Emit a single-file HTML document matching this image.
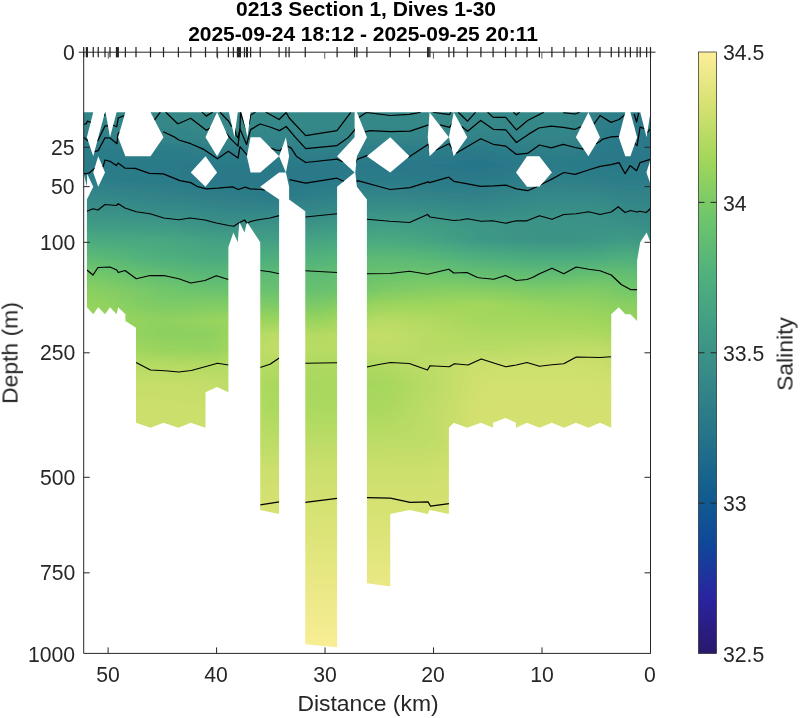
<!DOCTYPE html><html><head><meta charset="utf-8"><title>0213 Section 1</title><style>
html,body{margin:0;padding:0;background:#fff;}
body{width:800px;height:718px;position:relative;overflow:hidden;font-family:"Liberation Sans",sans-serif;color:#262626;}
.t{position:absolute;white-space:nowrap;line-height:1;will-change:transform;}
.tk{font-size:21.2px;}
.yl{text-align:right;right:725.1px;}
.xl{transform:translateX(-50%);}
.ttl{font-weight:bold;font-size:21px;color:#000;transform:translateX(-50%);left:367px;}
.lab{font-size:22.9px;}
</style></head><body>
<svg width="800" height="718" viewBox="0 0 800 718" style="position:absolute;left:0;top:0">
<defs><linearGradient id="g" gradientUnits="userSpaceOnUse" x1="0" y1="112" x2="0" y2="648"><stop offset="0.0000" stop-color="#388d87"/><stop offset="0.0466" stop-color="#348788"/><stop offset="0.0858" stop-color="#2a7a89"/><stop offset="0.1231" stop-color="#2a7989"/><stop offset="0.1642" stop-color="#338588"/><stop offset="0.2108" stop-color="#3b9286"/><stop offset="0.2481" stop-color="#49a781"/><stop offset="0.2985" stop-color="#61bd73"/><stop offset="0.3507" stop-color="#81cc65"/><stop offset="0.3881" stop-color="#9cd55c"/><stop offset="0.4254" stop-color="#aad85f"/><stop offset="0.4664" stop-color="#bbdc66"/><stop offset="0.5000" stop-color="#c6de6a"/><stop offset="0.5840" stop-color="#cfe06e"/><stop offset="0.6493" stop-color="#cfe06e"/><stop offset="0.7239" stop-color="#d7e273"/><stop offset="0.8172" stop-color="#e0e57c"/><stop offset="0.9104" stop-color="#ebe887"/><stop offset="1.0000" stop-color="#f4eb90"/></linearGradient>
<linearGradient id="cb" x1="0" y1="0" x2="0" y2="1"><stop offset="0.0000" stop-color="rgb(253,238,153)"/><stop offset="0.0909" stop-color="rgb(212,225,112)"/><stop offset="0.1818" stop-color="rgb(160,214,91)"/><stop offset="0.2727" stop-color="rgb(111,198,107)"/><stop offset="0.3636" stop-color="rgb(81,178,124)"/><stop offset="0.4545" stop-color="rgb(65,157,133)"/><stop offset="0.5455" stop-color="rgb(53,136,136)"/><stop offset="0.6364" stop-color="rgb(38,116,137)"/><stop offset="0.7273" stop-color="rgb(18,95,142)"/><stop offset="0.8182" stop-color="rgb(15,71,153)"/><stop offset="0.9091" stop-color="rgb(42,35,160)"/><stop offset="1.0000" stop-color="rgb(41,24,107)"/></linearGradient>
<clipPath id="clip"><path clip-rule="evenodd" d="M83.50 112.32 L650.50 112.32 L650.50 242.32 L646.60 232.56 L640.25 242.32 L637.10 260.46 L637.10 321.06 L630.40 314.26 L625.30 314.26 L618.75 307.27 L611.25 314.26 L611.25 427.65 L600.00 422.80 L588.40 427.65 L575.90 422.80 L564.00 427.65 L551.90 422.80 L539.40 427.65 L527.00 422.80 L516.00 427.65 L516.00 422.80 L505.50 417.90 L493.10 422.80 L493.10 427.65 L480.90 422.80 L467.25 427.65 L453.75 422.80 L448.90 427.65 L448.90 513.99 L429.60 510.06 L427.75 513.99 L409.50 510.06 L390.25 513.99 L390.25 586.56 L366.90 583.17 L366.90 199.46 L356.90 186.63 L355.30 172.44 L356.90 156.33 L366.90 137.22 L356.90 112.32 L354.60 112.32 L354.60 137.22 L337.10 156.33 L354.60 172.44 L337.10 186.63 L337.10 647.36 L305.25 644.31 L305.25 211.26 L289.10 199.46 L289.10 186.63 L285.90 172.44 L279.10 172.44 L260.25 186.63 L279.10 199.46 L279.10 513.99 L260.25 510.06 L260.25 242.32 L250.60 227.48 L246.90 222.25 L244.50 232.56 L239.40 222.25 L237.75 242.32 L233.40 232.56 L228.40 247.01 L228.40 392.29 L217.10 386.93 L205.50 392.29 L205.50 427.65 L190.75 422.80 L178.40 427.65 L163.50 422.80 L150.50 427.65 L136.00 422.80 L136.00 327.70 L125.40 321.06 L125.40 314.26 L118.10 307.27 L116.60 314.26 L110.00 307.27 L105.00 314.26 L98.25 307.27 L93.25 314.26 L86.90 307.27 L86.90 199.46 L93.25 186.63 L87.20 173.93 L86.90 186.63 L83.50 172.44Z M93.25 112.32 L86.90 137.22 L93.25 156.33 L98.25 137.22 L105.00 112.32Z M105.60 112.32 L116.60 112.32 L110.00 137.22Z M98.25 156.33 L105.00 172.44 L98.25 186.63 L93.25 172.44Z M125.40 112.32 L118.10 137.22 L125.40 156.33 L150.50 156.33 L163.50 137.22 L150.50 112.32Z M217.10 112.32 L228.40 137.22 L217.10 156.33 L205.50 137.22Z M205.50 156.33 L217.10 172.44 L205.50 186.63 L190.75 172.44Z M228.90 112.32 L237.75 112.32 L234.50 137.22Z M241.50 112.32 L250.60 112.32 L247.50 137.22Z M246.90 156.33 L250.60 137.22 L260.25 137.22 L279.10 156.33 L260.25 172.44 L250.60 172.44Z M279.10 156.33 L285.90 137.22 L289.10 156.33 L285.90 172.44Z M390.25 137.22 L409.50 156.33 L390.25 172.44 L366.90 156.33Z M429.60 112.32 L448.90 137.22 L429.60 156.33 L427.75 137.22Z M448.90 137.22 L453.75 112.32 L467.25 137.22 L453.75 156.33Z M516.00 172.44 L527.00 156.33 L539.40 156.33 L551.90 172.44 L539.40 186.63 L527.00 186.63Z M575.90 137.22 L588.40 112.32 L600.00 137.22 L588.40 156.33Z M625.30 112.32 L618.75 137.22 L625.30 156.33 L630.40 156.33 L637.10 137.22 L630.40 112.32Z M640.25 112.32 L650.50 112.32 L646.60 137.22Z M650.50 159.75 L646.40 172.44 L650.50 183.92Z"/></clipPath></defs>
<defs><linearGradient id="c0" gradientUnits="userSpaceOnUse" x1="0" y1="112" x2="0" y2="648"><stop offset="0.0000" stop-color="#338588"/><stop offset="0.0243" stop-color="#318388"/><stop offset="0.0466" stop-color="#2e7e88"/><stop offset="0.0709" stop-color="#2c7c89"/><stop offset="0.0989" stop-color="#2a7a89"/><stop offset="0.1269" stop-color="#2c7c89"/><stop offset="0.1549" stop-color="#348788"/><stop offset="0.1828" stop-color="#3a9087"/><stop offset="0.2108" stop-color="#409b85"/><stop offset="0.2388" stop-color="#4baa80"/><stop offset="0.2724" stop-color="#5ebb75"/><stop offset="0.3041" stop-color="#76c869"/><stop offset="0.3321" stop-color="#8bcf62"/><stop offset="0.3601" stop-color="#96d35e"/><stop offset="0.3881" stop-color="#9ed55c"/><stop offset="0.4160" stop-color="#a4d75d"/><stop offset="0.4440" stop-color="#acd960"/><stop offset="0.4720" stop-color="#b8db65"/><stop offset="0.5093" stop-color="#c6de6a"/><stop offset="0.5560" stop-color="#ccdf6d"/><stop offset="0.6119" stop-color="#ccdf6d"/><stop offset="0.6679" stop-color="#ccdf6d"/><stop offset="0.7239" stop-color="#d4e170"/><stop offset="0.8172" stop-color="#e0e57c"/><stop offset="0.9104" stop-color="#ede989"/><stop offset="1.0000" stop-color="#f8ed94"/></linearGradient><linearGradient id="c1" gradientUnits="userSpaceOnUse" x1="0" y1="112" x2="0" y2="648"><stop offset="0.0000" stop-color="#338588"/><stop offset="0.0243" stop-color="#318388"/><stop offset="0.0466" stop-color="#2e7e88"/><stop offset="0.0709" stop-color="#2c7c89"/><stop offset="0.0989" stop-color="#2a7a89"/><stop offset="0.1269" stop-color="#2c7c89"/><stop offset="0.1549" stop-color="#348788"/><stop offset="0.1828" stop-color="#3a9087"/><stop offset="0.2108" stop-color="#409b85"/><stop offset="0.2388" stop-color="#4baa80"/><stop offset="0.2724" stop-color="#5ebb75"/><stop offset="0.3041" stop-color="#76c869"/><stop offset="0.3321" stop-color="#8bcf62"/><stop offset="0.3601" stop-color="#96d35e"/><stop offset="0.3881" stop-color="#9ed55c"/><stop offset="0.4160" stop-color="#a4d75d"/><stop offset="0.4440" stop-color="#acd960"/><stop offset="0.4720" stop-color="#b8db65"/><stop offset="0.5093" stop-color="#c6de6a"/><stop offset="0.5560" stop-color="#ccdf6d"/><stop offset="0.6119" stop-color="#ccdf6d"/><stop offset="0.6679" stop-color="#ccdf6d"/><stop offset="0.7239" stop-color="#d4e170"/><stop offset="0.8172" stop-color="#e0e57c"/><stop offset="0.9104" stop-color="#ede989"/><stop offset="1.0000" stop-color="#f8ed94"/></linearGradient><linearGradient id="c2" gradientUnits="userSpaceOnUse" x1="0" y1="112" x2="0" y2="648"><stop offset="0.0000" stop-color="#338588"/><stop offset="0.0243" stop-color="#318388"/><stop offset="0.0466" stop-color="#2e7e88"/><stop offset="0.0709" stop-color="#2c7c89"/><stop offset="0.0989" stop-color="#2a7a89"/><stop offset="0.1269" stop-color="#2c7c89"/><stop offset="0.1549" stop-color="#348788"/><stop offset="0.1828" stop-color="#3a9087"/><stop offset="0.2108" stop-color="#409b85"/><stop offset="0.2388" stop-color="#4baa80"/><stop offset="0.2724" stop-color="#5ebb75"/><stop offset="0.3041" stop-color="#76c869"/><stop offset="0.3321" stop-color="#8bcf62"/><stop offset="0.3601" stop-color="#96d35e"/><stop offset="0.3881" stop-color="#9ed55c"/><stop offset="0.4160" stop-color="#a4d75d"/><stop offset="0.4440" stop-color="#acd960"/><stop offset="0.4720" stop-color="#b8db65"/><stop offset="0.5093" stop-color="#c6de6a"/><stop offset="0.5560" stop-color="#ccdf6d"/><stop offset="0.6119" stop-color="#ccdf6d"/><stop offset="0.6679" stop-color="#ccdf6d"/><stop offset="0.7239" stop-color="#d4e170"/><stop offset="0.8172" stop-color="#e0e57c"/><stop offset="0.9104" stop-color="#ede989"/><stop offset="1.0000" stop-color="#f8ed94"/></linearGradient><linearGradient id="c3" gradientUnits="userSpaceOnUse" x1="0" y1="112" x2="0" y2="648"><stop offset="0.0000" stop-color="#338588"/><stop offset="0.0243" stop-color="#318388"/><stop offset="0.0466" stop-color="#2e7e88"/><stop offset="0.0709" stop-color="#2c7c89"/><stop offset="0.0989" stop-color="#2a7a89"/><stop offset="0.1269" stop-color="#2c7c89"/><stop offset="0.1549" stop-color="#348788"/><stop offset="0.1828" stop-color="#3a9087"/><stop offset="0.2108" stop-color="#409b85"/><stop offset="0.2388" stop-color="#4baa80"/><stop offset="0.2724" stop-color="#5ebb75"/><stop offset="0.3041" stop-color="#76c869"/><stop offset="0.3321" stop-color="#8bcf62"/><stop offset="0.3601" stop-color="#96d35e"/><stop offset="0.3881" stop-color="#9ed55c"/><stop offset="0.4160" stop-color="#a4d75d"/><stop offset="0.4440" stop-color="#acd960"/><stop offset="0.4720" stop-color="#b8db65"/><stop offset="0.5093" stop-color="#c6de6a"/><stop offset="0.5560" stop-color="#ccdf6d"/><stop offset="0.6119" stop-color="#ccdf6d"/><stop offset="0.6679" stop-color="#ccdf6d"/><stop offset="0.7239" stop-color="#d4e170"/><stop offset="0.8172" stop-color="#e0e57c"/><stop offset="0.9104" stop-color="#ede989"/><stop offset="1.0000" stop-color="#f8ed94"/></linearGradient><linearGradient id="c4" gradientUnits="userSpaceOnUse" x1="0" y1="112" x2="0" y2="648"><stop offset="0.0000" stop-color="#338588"/><stop offset="0.0243" stop-color="#328388"/><stop offset="0.0466" stop-color="#2f7f88"/><stop offset="0.0709" stop-color="#2c7c89"/><stop offset="0.0989" stop-color="#2a7a89"/><stop offset="0.1269" stop-color="#2c7c89"/><stop offset="0.1549" stop-color="#348688"/><stop offset="0.1828" stop-color="#398f87"/><stop offset="0.2108" stop-color="#3f9a85"/><stop offset="0.2388" stop-color="#4aa980"/><stop offset="0.2724" stop-color="#5bb976"/><stop offset="0.3041" stop-color="#71c76a"/><stop offset="0.3321" stop-color="#87ce63"/><stop offset="0.3601" stop-color="#92d160"/><stop offset="0.3881" stop-color="#9bd55c"/><stop offset="0.4160" stop-color="#9fd65b"/><stop offset="0.4440" stop-color="#a9d85f"/><stop offset="0.4720" stop-color="#b7db64"/><stop offset="0.5093" stop-color="#c6de6a"/><stop offset="0.5560" stop-color="#ccdf6d"/><stop offset="0.6119" stop-color="#ccdf6d"/><stop offset="0.6679" stop-color="#ccdf6d"/><stop offset="0.7239" stop-color="#d4e170"/><stop offset="0.8172" stop-color="#e0e57c"/><stop offset="0.9104" stop-color="#ede989"/><stop offset="1.0000" stop-color="#f8ed94"/></linearGradient><linearGradient id="c5" gradientUnits="userSpaceOnUse" x1="0" y1="112" x2="0" y2="648"><stop offset="0.0000" stop-color="#338688"/><stop offset="0.0243" stop-color="#328488"/><stop offset="0.0466" stop-color="#2f8188"/><stop offset="0.0709" stop-color="#2c7c89"/><stop offset="0.0989" stop-color="#2a7a89"/><stop offset="0.1269" stop-color="#2c7c89"/><stop offset="0.1549" stop-color="#338588"/><stop offset="0.1828" stop-color="#388e87"/><stop offset="0.2108" stop-color="#3f9a85"/><stop offset="0.2388" stop-color="#4aa980"/><stop offset="0.2724" stop-color="#58b778"/><stop offset="0.3041" stop-color="#6dc46c"/><stop offset="0.3321" stop-color="#82cc65"/><stop offset="0.3601" stop-color="#8cd061"/><stop offset="0.3881" stop-color="#98d45d"/><stop offset="0.4160" stop-color="#9bd45d"/><stop offset="0.4440" stop-color="#a5d75d"/><stop offset="0.4720" stop-color="#b7db64"/><stop offset="0.5093" stop-color="#c6de6a"/><stop offset="0.5560" stop-color="#ccdf6d"/><stop offset="0.6119" stop-color="#ccdf6d"/><stop offset="0.6679" stop-color="#ccdf6d"/><stop offset="0.7239" stop-color="#d4e170"/><stop offset="0.8172" stop-color="#e0e57c"/><stop offset="0.9104" stop-color="#ede989"/><stop offset="1.0000" stop-color="#f8ed94"/></linearGradient><linearGradient id="c6" gradientUnits="userSpaceOnUse" x1="0" y1="112" x2="0" y2="648"><stop offset="0.0000" stop-color="#348788"/><stop offset="0.0243" stop-color="#338588"/><stop offset="0.0466" stop-color="#308288"/><stop offset="0.0709" stop-color="#2c7c89"/><stop offset="0.0989" stop-color="#2a7a89"/><stop offset="0.1269" stop-color="#2c7b89"/><stop offset="0.1549" stop-color="#328488"/><stop offset="0.1828" stop-color="#388d87"/><stop offset="0.2108" stop-color="#3f9986"/><stop offset="0.2388" stop-color="#4aa880"/><stop offset="0.2724" stop-color="#55b47a"/><stop offset="0.3041" stop-color="#69c26e"/><stop offset="0.3321" stop-color="#7dca67"/><stop offset="0.3601" stop-color="#87ce63"/><stop offset="0.3881" stop-color="#95d35e"/><stop offset="0.4160" stop-color="#96d35e"/><stop offset="0.4440" stop-color="#a2d65c"/><stop offset="0.4720" stop-color="#b6db64"/><stop offset="0.5093" stop-color="#c6de6a"/><stop offset="0.5560" stop-color="#ccdf6d"/><stop offset="0.6119" stop-color="#ccdf6d"/><stop offset="0.6679" stop-color="#ccdf6d"/><stop offset="0.7239" stop-color="#d4e170"/><stop offset="0.8172" stop-color="#e0e57c"/><stop offset="0.9104" stop-color="#ede989"/><stop offset="1.0000" stop-color="#f8ed94"/></linearGradient><linearGradient id="c7" gradientUnits="userSpaceOnUse" x1="0" y1="112" x2="0" y2="648"><stop offset="0.0000" stop-color="#348788"/><stop offset="0.0243" stop-color="#338688"/><stop offset="0.0466" stop-color="#318388"/><stop offset="0.0709" stop-color="#2c7c89"/><stop offset="0.0989" stop-color="#2a7a89"/><stop offset="0.1269" stop-color="#2b7b89"/><stop offset="0.1549" stop-color="#318388"/><stop offset="0.1828" stop-color="#378c87"/><stop offset="0.2108" stop-color="#3f9986"/><stop offset="0.2388" stop-color="#49a880"/><stop offset="0.2724" stop-color="#52b27c"/><stop offset="0.3041" stop-color="#66c070"/><stop offset="0.3321" stop-color="#78c968"/><stop offset="0.3601" stop-color="#82cc65"/><stop offset="0.3881" stop-color="#92d25f"/><stop offset="0.4160" stop-color="#92d160"/><stop offset="0.4440" stop-color="#9ed55c"/><stop offset="0.4720" stop-color="#b6db64"/><stop offset="0.5093" stop-color="#c6de6a"/><stop offset="0.5560" stop-color="#ccdf6d"/><stop offset="0.6119" stop-color="#ccdf6d"/><stop offset="0.6679" stop-color="#ccdf6d"/><stop offset="0.7239" stop-color="#d4e170"/><stop offset="0.8172" stop-color="#e0e57c"/><stop offset="0.9104" stop-color="#ede989"/><stop offset="1.0000" stop-color="#f8ed94"/></linearGradient><linearGradient id="c8" gradientUnits="userSpaceOnUse" x1="0" y1="112" x2="0" y2="648"><stop offset="0.0000" stop-color="#358888"/><stop offset="0.0243" stop-color="#348788"/><stop offset="0.0466" stop-color="#328488"/><stop offset="0.0709" stop-color="#2c7c89"/><stop offset="0.0989" stop-color="#2a7a89"/><stop offset="0.1269" stop-color="#2b7b89"/><stop offset="0.1549" stop-color="#308288"/><stop offset="0.1828" stop-color="#378b88"/><stop offset="0.2108" stop-color="#3e9886"/><stop offset="0.2388" stop-color="#49a781"/><stop offset="0.2724" stop-color="#50b07d"/><stop offset="0.3041" stop-color="#63be72"/><stop offset="0.3321" stop-color="#73c76a"/><stop offset="0.3601" stop-color="#7dcb66"/><stop offset="0.3881" stop-color="#8fd160"/><stop offset="0.4160" stop-color="#8dd061"/><stop offset="0.4440" stop-color="#9ad45d"/><stop offset="0.4720" stop-color="#b5db64"/><stop offset="0.5093" stop-color="#c6de6a"/><stop offset="0.5560" stop-color="#ccdf6d"/><stop offset="0.6119" stop-color="#ccdf6d"/><stop offset="0.6679" stop-color="#ccdf6d"/><stop offset="0.7239" stop-color="#d4e170"/><stop offset="0.8172" stop-color="#e0e57c"/><stop offset="0.9104" stop-color="#ede989"/><stop offset="1.0000" stop-color="#f8ed94"/></linearGradient><linearGradient id="c9" gradientUnits="userSpaceOnUse" x1="0" y1="112" x2="0" y2="648"><stop offset="0.0000" stop-color="#358888"/><stop offset="0.0243" stop-color="#348788"/><stop offset="0.0466" stop-color="#338588"/><stop offset="0.0709" stop-color="#2c7d89"/><stop offset="0.0989" stop-color="#2a7a89"/><stop offset="0.1269" stop-color="#2b7a89"/><stop offset="0.1549" stop-color="#308188"/><stop offset="0.1828" stop-color="#368a88"/><stop offset="0.2108" stop-color="#3e9786"/><stop offset="0.2388" stop-color="#48a681"/><stop offset="0.2724" stop-color="#4eae7e"/><stop offset="0.3041" stop-color="#60bc74"/><stop offset="0.3321" stop-color="#6fc66b"/><stop offset="0.3601" stop-color="#7cca67"/><stop offset="0.3881" stop-color="#90d160"/><stop offset="0.4160" stop-color="#8ccf62"/><stop offset="0.4440" stop-color="#98d45d"/><stop offset="0.4720" stop-color="#b5da63"/><stop offset="0.5093" stop-color="#c6de6a"/><stop offset="0.5560" stop-color="#cbdf6d"/><stop offset="0.6119" stop-color="#cbdf6d"/><stop offset="0.6679" stop-color="#ccdf6d"/><stop offset="0.7239" stop-color="#d4e170"/><stop offset="0.8172" stop-color="#e0e57c"/><stop offset="0.9104" stop-color="#ede989"/><stop offset="1.0000" stop-color="#f8ed94"/></linearGradient><linearGradient id="c10" gradientUnits="userSpaceOnUse" x1="0" y1="112" x2="0" y2="648"><stop offset="0.0000" stop-color="#358888"/><stop offset="0.0243" stop-color="#348788"/><stop offset="0.0466" stop-color="#338588"/><stop offset="0.0709" stop-color="#2d7d89"/><stop offset="0.0989" stop-color="#2a7989"/><stop offset="0.1269" stop-color="#2a7989"/><stop offset="0.1549" stop-color="#2f8088"/><stop offset="0.1828" stop-color="#368988"/><stop offset="0.2108" stop-color="#3c9586"/><stop offset="0.2388" stop-color="#47a482"/><stop offset="0.2724" stop-color="#4dad7e"/><stop offset="0.3041" stop-color="#5dba75"/><stop offset="0.3321" stop-color="#6dc56c"/><stop offset="0.3601" stop-color="#7ecb66"/><stop offset="0.3881" stop-color="#93d25f"/><stop offset="0.4160" stop-color="#8dd061"/><stop offset="0.4440" stop-color="#98d35e"/><stop offset="0.4720" stop-color="#b4da63"/><stop offset="0.5093" stop-color="#c5de6a"/><stop offset="0.5560" stop-color="#cbdf6c"/><stop offset="0.6119" stop-color="#cbdf6c"/><stop offset="0.6679" stop-color="#ccdf6d"/><stop offset="0.7239" stop-color="#d4e170"/><stop offset="0.8172" stop-color="#e0e57c"/><stop offset="0.9104" stop-color="#ede989"/><stop offset="1.0000" stop-color="#f8ed94"/></linearGradient><linearGradient id="c11" gradientUnits="userSpaceOnUse" x1="0" y1="112" x2="0" y2="648"><stop offset="0.0000" stop-color="#358888"/><stop offset="0.0243" stop-color="#348788"/><stop offset="0.0466" stop-color="#338588"/><stop offset="0.0709" stop-color="#2e7e88"/><stop offset="0.0989" stop-color="#2a7989"/><stop offset="0.1269" stop-color="#297989"/><stop offset="0.1549" stop-color="#2e7f88"/><stop offset="0.1828" stop-color="#358888"/><stop offset="0.2108" stop-color="#3b9287"/><stop offset="0.2388" stop-color="#45a283"/><stop offset="0.2724" stop-color="#4cab7f"/><stop offset="0.3041" stop-color="#5bb976"/><stop offset="0.3321" stop-color="#6bc36d"/><stop offset="0.3601" stop-color="#7fcb66"/><stop offset="0.3881" stop-color="#96d35e"/><stop offset="0.4160" stop-color="#8dd061"/><stop offset="0.4440" stop-color="#97d35e"/><stop offset="0.4720" stop-color="#b3da63"/><stop offset="0.5093" stop-color="#c4de6a"/><stop offset="0.5560" stop-color="#cadf6c"/><stop offset="0.6119" stop-color="#cadf6c"/><stop offset="0.6679" stop-color="#ccdf6d"/><stop offset="0.7239" stop-color="#d4e170"/><stop offset="0.8172" stop-color="#e0e57c"/><stop offset="0.9104" stop-color="#ede989"/><stop offset="1.0000" stop-color="#f8ed94"/></linearGradient><linearGradient id="c12" gradientUnits="userSpaceOnUse" x1="0" y1="112" x2="0" y2="648"><stop offset="0.0000" stop-color="#358888"/><stop offset="0.0243" stop-color="#348788"/><stop offset="0.0466" stop-color="#338588"/><stop offset="0.0709" stop-color="#2e7f88"/><stop offset="0.0989" stop-color="#2a7989"/><stop offset="0.1269" stop-color="#297889"/><stop offset="0.1549" stop-color="#2e7e88"/><stop offset="0.1828" stop-color="#348788"/><stop offset="0.2108" stop-color="#3a9087"/><stop offset="0.2388" stop-color="#44a084"/><stop offset="0.2724" stop-color="#4baa80"/><stop offset="0.3041" stop-color="#59b778"/><stop offset="0.3321" stop-color="#69c26e"/><stop offset="0.3601" stop-color="#81cc65"/><stop offset="0.3881" stop-color="#99d45d"/><stop offset="0.4160" stop-color="#8ed061"/><stop offset="0.4440" stop-color="#96d35e"/><stop offset="0.4720" stop-color="#b2da62"/><stop offset="0.5093" stop-color="#c3dd69"/><stop offset="0.5560" stop-color="#c9df6c"/><stop offset="0.6119" stop-color="#c9df6c"/><stop offset="0.6679" stop-color="#ccdf6d"/><stop offset="0.7239" stop-color="#d4e170"/><stop offset="0.8172" stop-color="#e0e57c"/><stop offset="0.9104" stop-color="#ede989"/><stop offset="1.0000" stop-color="#f8ed94"/></linearGradient><linearGradient id="c13" gradientUnits="userSpaceOnUse" x1="0" y1="112" x2="0" y2="648"><stop offset="0.0000" stop-color="#358888"/><stop offset="0.0243" stop-color="#348788"/><stop offset="0.0466" stop-color="#338588"/><stop offset="0.0709" stop-color="#2e7f88"/><stop offset="0.0989" stop-color="#2a7989"/><stop offset="0.1269" stop-color="#297889"/><stop offset="0.1549" stop-color="#2d7d89"/><stop offset="0.1828" stop-color="#348688"/><stop offset="0.2108" stop-color="#3a9187"/><stop offset="0.2388" stop-color="#43a084"/><stop offset="0.2724" stop-color="#4bab7f"/><stop offset="0.3041" stop-color="#5ab877"/><stop offset="0.3321" stop-color="#69c26e"/><stop offset="0.3601" stop-color="#80cc65"/><stop offset="0.3881" stop-color="#9ad45d"/><stop offset="0.4160" stop-color="#9ad45d"/><stop offset="0.4440" stop-color="#a1d65c"/><stop offset="0.4720" stop-color="#b3da63"/><stop offset="0.5093" stop-color="#bddc67"/><stop offset="0.5560" stop-color="#c2dd69"/><stop offset="0.6119" stop-color="#c5de6a"/><stop offset="0.6679" stop-color="#ccdf6d"/><stop offset="0.7239" stop-color="#d4e170"/><stop offset="0.8172" stop-color="#e0e57c"/><stop offset="0.9104" stop-color="#ede989"/><stop offset="1.0000" stop-color="#f8ed94"/></linearGradient><linearGradient id="c14" gradientUnits="userSpaceOnUse" x1="0" y1="112" x2="0" y2="648"><stop offset="0.0000" stop-color="#358888"/><stop offset="0.0243" stop-color="#348788"/><stop offset="0.0466" stop-color="#338588"/><stop offset="0.0709" stop-color="#2e7f88"/><stop offset="0.0989" stop-color="#2a7989"/><stop offset="0.1269" stop-color="#297889"/><stop offset="0.1549" stop-color="#2c7c89"/><stop offset="0.1828" stop-color="#338688"/><stop offset="0.2108" stop-color="#3a9187"/><stop offset="0.2388" stop-color="#439f84"/><stop offset="0.2724" stop-color="#4cac7f"/><stop offset="0.3041" stop-color="#5bb976"/><stop offset="0.3321" stop-color="#69c26e"/><stop offset="0.3601" stop-color="#7fcb66"/><stop offset="0.3881" stop-color="#9ad45d"/><stop offset="0.4160" stop-color="#a6d75d"/><stop offset="0.4440" stop-color="#add960"/><stop offset="0.4720" stop-color="#b4da63"/><stop offset="0.5093" stop-color="#b6db64"/><stop offset="0.5560" stop-color="#bbdc66"/><stop offset="0.6119" stop-color="#c2dd69"/><stop offset="0.6679" stop-color="#ccdf6d"/><stop offset="0.7239" stop-color="#d4e170"/><stop offset="0.8172" stop-color="#e0e57c"/><stop offset="0.9104" stop-color="#ede989"/><stop offset="1.0000" stop-color="#f8ed94"/></linearGradient><linearGradient id="c15" gradientUnits="userSpaceOnUse" x1="0" y1="112" x2="0" y2="648"><stop offset="0.0000" stop-color="#358888"/><stop offset="0.0243" stop-color="#348788"/><stop offset="0.0466" stop-color="#338588"/><stop offset="0.0709" stop-color="#2e7f88"/><stop offset="0.0989" stop-color="#2a7a89"/><stop offset="0.1269" stop-color="#297889"/><stop offset="0.1549" stop-color="#2b7b89"/><stop offset="0.1828" stop-color="#338588"/><stop offset="0.2108" stop-color="#3b9287"/><stop offset="0.2388" stop-color="#429f84"/><stop offset="0.2724" stop-color="#4dad7e"/><stop offset="0.3041" stop-color="#5dba75"/><stop offset="0.3321" stop-color="#69c26e"/><stop offset="0.3601" stop-color="#7fcb66"/><stop offset="0.3881" stop-color="#9bd45d"/><stop offset="0.4160" stop-color="#b2da62"/><stop offset="0.4440" stop-color="#b9db65"/><stop offset="0.4720" stop-color="#b4da63"/><stop offset="0.5093" stop-color="#b0d961"/><stop offset="0.5560" stop-color="#b3da63"/><stop offset="0.6119" stop-color="#bedc67"/><stop offset="0.6679" stop-color="#ccdf6d"/><stop offset="0.7239" stop-color="#d4e170"/><stop offset="0.8172" stop-color="#e0e57c"/><stop offset="0.9104" stop-color="#ede989"/><stop offset="1.0000" stop-color="#f8ed94"/></linearGradient><linearGradient id="c16" gradientUnits="userSpaceOnUse" x1="0" y1="112" x2="0" y2="648"><stop offset="0.0000" stop-color="#358888"/><stop offset="0.0243" stop-color="#348788"/><stop offset="0.0466" stop-color="#338588"/><stop offset="0.0709" stop-color="#2e7f88"/><stop offset="0.0989" stop-color="#2a7a89"/><stop offset="0.1269" stop-color="#297889"/><stop offset="0.1549" stop-color="#2a7a89"/><stop offset="0.1828" stop-color="#338588"/><stop offset="0.2108" stop-color="#3b9386"/><stop offset="0.2388" stop-color="#429e85"/><stop offset="0.2724" stop-color="#4eae7e"/><stop offset="0.3041" stop-color="#5ebb75"/><stop offset="0.3321" stop-color="#69c26e"/><stop offset="0.3601" stop-color="#7ecb66"/><stop offset="0.3881" stop-color="#9bd55c"/><stop offset="0.4160" stop-color="#bddc67"/><stop offset="0.4440" stop-color="#c3dd69"/><stop offset="0.4720" stop-color="#b5da63"/><stop offset="0.5093" stop-color="#aad85f"/><stop offset="0.5560" stop-color="#acd960"/><stop offset="0.6119" stop-color="#bbdc66"/><stop offset="0.6679" stop-color="#ccdf6d"/><stop offset="0.7239" stop-color="#d4e170"/><stop offset="0.8172" stop-color="#e0e57c"/><stop offset="0.9104" stop-color="#ede989"/><stop offset="1.0000" stop-color="#f8ed94"/></linearGradient><linearGradient id="c17" gradientUnits="userSpaceOnUse" x1="0" y1="112" x2="0" y2="648"><stop offset="0.0000" stop-color="#358888"/><stop offset="0.0243" stop-color="#348788"/><stop offset="0.0466" stop-color="#338588"/><stop offset="0.0709" stop-color="#2f8088"/><stop offset="0.0989" stop-color="#2a7989"/><stop offset="0.1269" stop-color="#297889"/><stop offset="0.1549" stop-color="#2b7b89"/><stop offset="0.1828" stop-color="#338588"/><stop offset="0.2108" stop-color="#3b9386"/><stop offset="0.2388" stop-color="#43a084"/><stop offset="0.2724" stop-color="#4fb07d"/><stop offset="0.3041" stop-color="#5ebb74"/><stop offset="0.3321" stop-color="#68c26f"/><stop offset="0.3601" stop-color="#7dcb66"/><stop offset="0.3881" stop-color="#9ad45d"/><stop offset="0.4160" stop-color="#badc66"/><stop offset="0.4440" stop-color="#bfdd68"/><stop offset="0.4720" stop-color="#b2da62"/><stop offset="0.5093" stop-color="#aad85f"/><stop offset="0.5560" stop-color="#acd960"/><stop offset="0.6119" stop-color="#bbdc66"/><stop offset="0.6679" stop-color="#ccdf6d"/><stop offset="0.7239" stop-color="#d4e170"/><stop offset="0.8172" stop-color="#e0e57c"/><stop offset="0.9104" stop-color="#ede989"/><stop offset="1.0000" stop-color="#f8ed94"/></linearGradient><linearGradient id="c18" gradientUnits="userSpaceOnUse" x1="0" y1="112" x2="0" y2="648"><stop offset="0.0000" stop-color="#358888"/><stop offset="0.0243" stop-color="#348788"/><stop offset="0.0466" stop-color="#338588"/><stop offset="0.0709" stop-color="#2f8088"/><stop offset="0.0989" stop-color="#2a7989"/><stop offset="0.1269" stop-color="#297889"/><stop offset="0.1549" stop-color="#2c7c89"/><stop offset="0.1828" stop-color="#348688"/><stop offset="0.2108" stop-color="#3c9486"/><stop offset="0.2388" stop-color="#44a183"/><stop offset="0.2724" stop-color="#50b17c"/><stop offset="0.3041" stop-color="#5fbb74"/><stop offset="0.3321" stop-color="#67c16f"/><stop offset="0.3601" stop-color="#7cca67"/><stop offset="0.3881" stop-color="#98d45d"/><stop offset="0.4160" stop-color="#b7db64"/><stop offset="0.4440" stop-color="#bbdc66"/><stop offset="0.4720" stop-color="#b0d961"/><stop offset="0.5093" stop-color="#aad85f"/><stop offset="0.5560" stop-color="#acd960"/><stop offset="0.6119" stop-color="#bbdc66"/><stop offset="0.6679" stop-color="#ccdf6d"/><stop offset="0.7239" stop-color="#d4e170"/><stop offset="0.8172" stop-color="#e0e57c"/><stop offset="0.9104" stop-color="#ede989"/><stop offset="1.0000" stop-color="#f8ed94"/></linearGradient><linearGradient id="c19" gradientUnits="userSpaceOnUse" x1="0" y1="112" x2="0" y2="648"><stop offset="0.0000" stop-color="#358888"/><stop offset="0.0243" stop-color="#348788"/><stop offset="0.0466" stop-color="#338588"/><stop offset="0.0709" stop-color="#2f8088"/><stop offset="0.0989" stop-color="#2a7989"/><stop offset="0.1269" stop-color="#297989"/><stop offset="0.1549" stop-color="#2d7e89"/><stop offset="0.1828" stop-color="#348788"/><stop offset="0.2108" stop-color="#3c9486"/><stop offset="0.2388" stop-color="#46a382"/><stop offset="0.2724" stop-color="#51b27c"/><stop offset="0.3041" stop-color="#5fbb74"/><stop offset="0.3321" stop-color="#66c070"/><stop offset="0.3601" stop-color="#7cca67"/><stop offset="0.3881" stop-color="#97d35e"/><stop offset="0.4160" stop-color="#b4da63"/><stop offset="0.4440" stop-color="#b7db64"/><stop offset="0.4720" stop-color="#aed961"/><stop offset="0.5093" stop-color="#aad85f"/><stop offset="0.5560" stop-color="#acd960"/><stop offset="0.6119" stop-color="#bbdc66"/><stop offset="0.6679" stop-color="#ccdf6d"/><stop offset="0.7239" stop-color="#d4e170"/><stop offset="0.8172" stop-color="#e0e57c"/><stop offset="0.9104" stop-color="#ede989"/><stop offset="1.0000" stop-color="#f8ed94"/></linearGradient><linearGradient id="c20" gradientUnits="userSpaceOnUse" x1="0" y1="112" x2="0" y2="648"><stop offset="0.0000" stop-color="#358888"/><stop offset="0.0243" stop-color="#348788"/><stop offset="0.0466" stop-color="#338588"/><stop offset="0.0709" stop-color="#2f8088"/><stop offset="0.0989" stop-color="#2a7989"/><stop offset="0.1269" stop-color="#2a7989"/><stop offset="0.1549" stop-color="#2e7f88"/><stop offset="0.1828" stop-color="#358888"/><stop offset="0.2108" stop-color="#3d9686"/><stop offset="0.2388" stop-color="#47a482"/><stop offset="0.2724" stop-color="#54b47b"/><stop offset="0.3041" stop-color="#61bc73"/><stop offset="0.3321" stop-color="#68c16f"/><stop offset="0.3601" stop-color="#7fcb66"/><stop offset="0.3881" stop-color="#9ad45d"/><stop offset="0.4160" stop-color="#b5da63"/><stop offset="0.4440" stop-color="#b6db64"/><stop offset="0.4720" stop-color="#add960"/><stop offset="0.5093" stop-color="#a9d85f"/><stop offset="0.5560" stop-color="#acd960"/><stop offset="0.6119" stop-color="#bbdc66"/><stop offset="0.6679" stop-color="#ccdf6d"/><stop offset="0.7239" stop-color="#d4e170"/><stop offset="0.8172" stop-color="#e0e57c"/><stop offset="0.9104" stop-color="#ede989"/><stop offset="1.0000" stop-color="#f8ed94"/></linearGradient><linearGradient id="c21" gradientUnits="userSpaceOnUse" x1="0" y1="112" x2="0" y2="648"><stop offset="0.0000" stop-color="#358888"/><stop offset="0.0243" stop-color="#348788"/><stop offset="0.0466" stop-color="#338588"/><stop offset="0.0709" stop-color="#2f8088"/><stop offset="0.0989" stop-color="#2a7989"/><stop offset="0.1269" stop-color="#2a7a89"/><stop offset="0.1549" stop-color="#2f8188"/><stop offset="0.1828" stop-color="#368a88"/><stop offset="0.2108" stop-color="#3e9886"/><stop offset="0.2388" stop-color="#48a681"/><stop offset="0.2724" stop-color="#56b579"/><stop offset="0.3041" stop-color="#63be72"/><stop offset="0.3321" stop-color="#6cc46d"/><stop offset="0.3601" stop-color="#87ce63"/><stop offset="0.3881" stop-color="#a2d65c"/><stop offset="0.4160" stop-color="#b9db65"/><stop offset="0.4440" stop-color="#b9db65"/><stop offset="0.4720" stop-color="#add960"/><stop offset="0.5093" stop-color="#a8d85e"/><stop offset="0.5560" stop-color="#abd860"/><stop offset="0.6119" stop-color="#bbdc66"/><stop offset="0.6679" stop-color="#ccdf6d"/><stop offset="0.7239" stop-color="#d4e170"/><stop offset="0.8172" stop-color="#e0e57c"/><stop offset="0.9104" stop-color="#ede989"/><stop offset="1.0000" stop-color="#f8ed94"/></linearGradient><linearGradient id="c22" gradientUnits="userSpaceOnUse" x1="0" y1="112" x2="0" y2="648"><stop offset="0.0000" stop-color="#358888"/><stop offset="0.0243" stop-color="#348788"/><stop offset="0.0466" stop-color="#338588"/><stop offset="0.0709" stop-color="#2e7f88"/><stop offset="0.0989" stop-color="#2a7989"/><stop offset="0.1269" stop-color="#2b7b89"/><stop offset="0.1549" stop-color="#318288"/><stop offset="0.1828" stop-color="#378c87"/><stop offset="0.2108" stop-color="#3f9a85"/><stop offset="0.2388" stop-color="#49a781"/><stop offset="0.2724" stop-color="#59b778"/><stop offset="0.3041" stop-color="#66c070"/><stop offset="0.3321" stop-color="#70c66b"/><stop offset="0.3601" stop-color="#8ed061"/><stop offset="0.3881" stop-color="#aad85f"/><stop offset="0.4160" stop-color="#bedc67"/><stop offset="0.4440" stop-color="#bcdc66"/><stop offset="0.4720" stop-color="#aed961"/><stop offset="0.5093" stop-color="#a6d75e"/><stop offset="0.5560" stop-color="#abd85f"/><stop offset="0.6119" stop-color="#bbdc66"/><stop offset="0.6679" stop-color="#ccdf6d"/><stop offset="0.7239" stop-color="#d4e170"/><stop offset="0.8172" stop-color="#e0e57c"/><stop offset="0.9104" stop-color="#ede989"/><stop offset="1.0000" stop-color="#f8ed94"/></linearGradient><linearGradient id="c23" gradientUnits="userSpaceOnUse" x1="0" y1="112" x2="0" y2="648"><stop offset="0.0000" stop-color="#358888"/><stop offset="0.0243" stop-color="#348788"/><stop offset="0.0466" stop-color="#338588"/><stop offset="0.0709" stop-color="#2e7f88"/><stop offset="0.0989" stop-color="#2a7989"/><stop offset="0.1269" stop-color="#2c7b89"/><stop offset="0.1549" stop-color="#328488"/><stop offset="0.1828" stop-color="#398e87"/><stop offset="0.2108" stop-color="#419c85"/><stop offset="0.2388" stop-color="#4aa980"/><stop offset="0.2724" stop-color="#5cb976"/><stop offset="0.3041" stop-color="#69c26e"/><stop offset="0.3321" stop-color="#76c869"/><stop offset="0.3601" stop-color="#96d35e"/><stop offset="0.3881" stop-color="#b2da62"/><stop offset="0.4160" stop-color="#c3dd69"/><stop offset="0.4440" stop-color="#bedc67"/><stop offset="0.4720" stop-color="#afd961"/><stop offset="0.5093" stop-color="#a5d75d"/><stop offset="0.5560" stop-color="#aad85f"/><stop offset="0.6119" stop-color="#bbdc66"/><stop offset="0.6679" stop-color="#ccdf6d"/><stop offset="0.7239" stop-color="#d4e170"/><stop offset="0.8172" stop-color="#e0e57c"/><stop offset="0.9104" stop-color="#ede989"/><stop offset="1.0000" stop-color="#f8ed94"/></linearGradient><linearGradient id="c24" gradientUnits="userSpaceOnUse" x1="0" y1="112" x2="0" y2="648"><stop offset="0.0000" stop-color="#358888"/><stop offset="0.0243" stop-color="#348788"/><stop offset="0.0466" stop-color="#338588"/><stop offset="0.0709" stop-color="#2e7e88"/><stop offset="0.0989" stop-color="#297989"/><stop offset="0.1269" stop-color="#2c7c89"/><stop offset="0.1549" stop-color="#338588"/><stop offset="0.1828" stop-color="#3a9087"/><stop offset="0.2108" stop-color="#429e85"/><stop offset="0.2388" stop-color="#4aa980"/><stop offset="0.2724" stop-color="#5dba75"/><stop offset="0.3041" stop-color="#6bc36d"/><stop offset="0.3321" stop-color="#7cca67"/><stop offset="0.3601" stop-color="#9cd55c"/><stop offset="0.3881" stop-color="#b8db65"/><stop offset="0.4160" stop-color="#c5de6a"/><stop offset="0.4440" stop-color="#c0dd68"/><stop offset="0.4720" stop-color="#b0d962"/><stop offset="0.5093" stop-color="#a5d75d"/><stop offset="0.5560" stop-color="#abd85f"/><stop offset="0.6119" stop-color="#bbdc66"/><stop offset="0.6679" stop-color="#ccdf6d"/><stop offset="0.7239" stop-color="#d4e170"/><stop offset="0.8172" stop-color="#e0e57c"/><stop offset="0.9104" stop-color="#ede989"/><stop offset="1.0000" stop-color="#f8ed94"/></linearGradient><linearGradient id="c25" gradientUnits="userSpaceOnUse" x1="0" y1="112" x2="0" y2="648"><stop offset="0.0000" stop-color="#358888"/><stop offset="0.0243" stop-color="#348788"/><stop offset="0.0466" stop-color="#338588"/><stop offset="0.0709" stop-color="#2d7d89"/><stop offset="0.0989" stop-color="#297889"/><stop offset="0.1269" stop-color="#2b7b89"/><stop offset="0.1549" stop-color="#328488"/><stop offset="0.1828" stop-color="#398f87"/><stop offset="0.2108" stop-color="#419d85"/><stop offset="0.2388" stop-color="#49a880"/><stop offset="0.2724" stop-color="#5cb976"/><stop offset="0.3041" stop-color="#6cc46d"/><stop offset="0.3321" stop-color="#7fcb66"/><stop offset="0.3601" stop-color="#9dd55c"/><stop offset="0.3881" stop-color="#b6db64"/><stop offset="0.4160" stop-color="#c1dd68"/><stop offset="0.4440" stop-color="#bedc67"/><stop offset="0.4720" stop-color="#b4da63"/><stop offset="0.5093" stop-color="#abd85f"/><stop offset="0.5560" stop-color="#b0d962"/><stop offset="0.6119" stop-color="#bcdc66"/><stop offset="0.6679" stop-color="#ccdf6d"/><stop offset="0.7239" stop-color="#d4e170"/><stop offset="0.8172" stop-color="#e0e57c"/><stop offset="0.9104" stop-color="#ede989"/><stop offset="1.0000" stop-color="#f8ed94"/></linearGradient><linearGradient id="c26" gradientUnits="userSpaceOnUse" x1="0" y1="112" x2="0" y2="648"><stop offset="0.0000" stop-color="#358888"/><stop offset="0.0243" stop-color="#348788"/><stop offset="0.0466" stop-color="#338588"/><stop offset="0.0709" stop-color="#2d7d89"/><stop offset="0.0989" stop-color="#297889"/><stop offset="0.1269" stop-color="#2b7b89"/><stop offset="0.1549" stop-color="#328388"/><stop offset="0.1828" stop-color="#398f87"/><stop offset="0.2108" stop-color="#419d85"/><stop offset="0.2388" stop-color="#48a681"/><stop offset="0.2724" stop-color="#5bb877"/><stop offset="0.3041" stop-color="#6dc56c"/><stop offset="0.3321" stop-color="#82cc65"/><stop offset="0.3601" stop-color="#9dd55c"/><stop offset="0.3881" stop-color="#b4da63"/><stop offset="0.4160" stop-color="#bddc67"/><stop offset="0.4440" stop-color="#bbdc66"/><stop offset="0.4720" stop-color="#b8db65"/><stop offset="0.5093" stop-color="#b0d962"/><stop offset="0.5560" stop-color="#b6db64"/><stop offset="0.6119" stop-color="#bddc67"/><stop offset="0.6679" stop-color="#ccdf6d"/><stop offset="0.7239" stop-color="#d4e170"/><stop offset="0.8172" stop-color="#e0e57c"/><stop offset="0.9104" stop-color="#ede989"/><stop offset="1.0000" stop-color="#f8ed94"/></linearGradient><linearGradient id="c27" gradientUnits="userSpaceOnUse" x1="0" y1="112" x2="0" y2="648"><stop offset="0.0000" stop-color="#358888"/><stop offset="0.0243" stop-color="#348788"/><stop offset="0.0466" stop-color="#338588"/><stop offset="0.0709" stop-color="#2c7c89"/><stop offset="0.0989" stop-color="#297889"/><stop offset="0.1269" stop-color="#2b7a89"/><stop offset="0.1549" stop-color="#318388"/><stop offset="0.1828" stop-color="#388e87"/><stop offset="0.2108" stop-color="#409c85"/><stop offset="0.2388" stop-color="#47a482"/><stop offset="0.2724" stop-color="#59b877"/><stop offset="0.3041" stop-color="#6ec56c"/><stop offset="0.3321" stop-color="#85cd64"/><stop offset="0.3601" stop-color="#9ed55c"/><stop offset="0.3881" stop-color="#b3da63"/><stop offset="0.4160" stop-color="#b9db65"/><stop offset="0.4440" stop-color="#b9db65"/><stop offset="0.4720" stop-color="#bcdc66"/><stop offset="0.5093" stop-color="#b6db64"/><stop offset="0.5560" stop-color="#bcdc66"/><stop offset="0.6119" stop-color="#bddc67"/><stop offset="0.6679" stop-color="#ccdf6d"/><stop offset="0.7239" stop-color="#d4e170"/><stop offset="0.8172" stop-color="#e0e57c"/><stop offset="0.9104" stop-color="#ede989"/><stop offset="1.0000" stop-color="#f8ed94"/></linearGradient><linearGradient id="c28" gradientUnits="userSpaceOnUse" x1="0" y1="112" x2="0" y2="648"><stop offset="0.0000" stop-color="#358888"/><stop offset="0.0243" stop-color="#348788"/><stop offset="0.0466" stop-color="#328488"/><stop offset="0.0709" stop-color="#2c7c89"/><stop offset="0.0989" stop-color="#287789"/><stop offset="0.1269" stop-color="#2a7a89"/><stop offset="0.1549" stop-color="#318288"/><stop offset="0.1828" stop-color="#388d87"/><stop offset="0.2108" stop-color="#409b85"/><stop offset="0.2388" stop-color="#45a283"/><stop offset="0.2724" stop-color="#57b679"/><stop offset="0.3041" stop-color="#6dc56c"/><stop offset="0.3321" stop-color="#86ce63"/><stop offset="0.3601" stop-color="#9fd65b"/><stop offset="0.3881" stop-color="#b0d961"/><stop offset="0.4160" stop-color="#b6db64"/><stop offset="0.4440" stop-color="#b8db65"/><stop offset="0.4720" stop-color="#c0dd68"/><stop offset="0.5093" stop-color="#bddc67"/><stop offset="0.5560" stop-color="#c2dd69"/><stop offset="0.6119" stop-color="#c2dd69"/><stop offset="0.6679" stop-color="#cde06d"/><stop offset="0.7239" stop-color="#d4e170"/><stop offset="0.8172" stop-color="#e0e57c"/><stop offset="0.9104" stop-color="#ede989"/><stop offset="1.0000" stop-color="#f8ed94"/></linearGradient><linearGradient id="c29" gradientUnits="userSpaceOnUse" x1="0" y1="112" x2="0" y2="648"><stop offset="0.0000" stop-color="#358888"/><stop offset="0.0243" stop-color="#348788"/><stop offset="0.0466" stop-color="#328488"/><stop offset="0.0709" stop-color="#2b7b89"/><stop offset="0.0989" stop-color="#287789"/><stop offset="0.1269" stop-color="#2a7a89"/><stop offset="0.1549" stop-color="#308288"/><stop offset="0.1828" stop-color="#378c87"/><stop offset="0.2108" stop-color="#3f9986"/><stop offset="0.2388" stop-color="#429f84"/><stop offset="0.2724" stop-color="#53b47b"/><stop offset="0.3041" stop-color="#6ac36e"/><stop offset="0.3321" stop-color="#86ce63"/><stop offset="0.3601" stop-color="#a1d65b"/><stop offset="0.3881" stop-color="#acd860"/><stop offset="0.4160" stop-color="#b4da63"/><stop offset="0.4440" stop-color="#b8db65"/><stop offset="0.4720" stop-color="#c4de6a"/><stop offset="0.5093" stop-color="#c4de69"/><stop offset="0.5560" stop-color="#c8de6b"/><stop offset="0.6119" stop-color="#c8de6b"/><stop offset="0.6679" stop-color="#d0e06e"/><stop offset="0.7239" stop-color="#d4e170"/><stop offset="0.8172" stop-color="#e0e57c"/><stop offset="0.9104" stop-color="#ede989"/><stop offset="1.0000" stop-color="#f8ed94"/></linearGradient><linearGradient id="c30" gradientUnits="userSpaceOnUse" x1="0" y1="112" x2="0" y2="648"><stop offset="0.0000" stop-color="#358888"/><stop offset="0.0243" stop-color="#348788"/><stop offset="0.0466" stop-color="#318388"/><stop offset="0.0709" stop-color="#2b7a89"/><stop offset="0.0989" stop-color="#277689"/><stop offset="0.1269" stop-color="#2a7a89"/><stop offset="0.1549" stop-color="#308188"/><stop offset="0.1828" stop-color="#368a88"/><stop offset="0.2108" stop-color="#3e9786"/><stop offset="0.2388" stop-color="#409b85"/><stop offset="0.2724" stop-color="#51b17c"/><stop offset="0.3041" stop-color="#68c16f"/><stop offset="0.3321" stop-color="#86ce63"/><stop offset="0.3601" stop-color="#a2d75c"/><stop offset="0.3881" stop-color="#a8d85e"/><stop offset="0.4160" stop-color="#b2da62"/><stop offset="0.4440" stop-color="#b8db65"/><stop offset="0.4720" stop-color="#c8df6b"/><stop offset="0.5093" stop-color="#cbdf6c"/><stop offset="0.5560" stop-color="#cfe06e"/><stop offset="0.6119" stop-color="#cfe06e"/><stop offset="0.6679" stop-color="#d2e16f"/><stop offset="0.7239" stop-color="#d4e170"/><stop offset="0.8172" stop-color="#e0e57c"/><stop offset="0.9104" stop-color="#ede989"/><stop offset="1.0000" stop-color="#f8ed94"/></linearGradient><linearGradient id="c31" gradientUnits="userSpaceOnUse" x1="0" y1="112" x2="0" y2="648"><stop offset="0.0000" stop-color="#358888"/><stop offset="0.0243" stop-color="#348788"/><stop offset="0.0466" stop-color="#318388"/><stop offset="0.0709" stop-color="#2a7a89"/><stop offset="0.0989" stop-color="#277589"/><stop offset="0.1269" stop-color="#2a7a89"/><stop offset="0.1549" stop-color="#2f8188"/><stop offset="0.1828" stop-color="#368988"/><stop offset="0.2108" stop-color="#3d9686"/><stop offset="0.2388" stop-color="#3e9886"/><stop offset="0.2724" stop-color="#4faf7d"/><stop offset="0.3041" stop-color="#66c070"/><stop offset="0.3321" stop-color="#86cd64"/><stop offset="0.3601" stop-color="#a4d75c"/><stop offset="0.3881" stop-color="#a4d75d"/><stop offset="0.4160" stop-color="#afd961"/><stop offset="0.4440" stop-color="#b8db65"/><stop offset="0.4720" stop-color="#ccdf6d"/><stop offset="0.5093" stop-color="#d2e16f"/><stop offset="0.5560" stop-color="#d4e170"/><stop offset="0.6119" stop-color="#d4e170"/><stop offset="0.6679" stop-color="#d4e170"/><stop offset="0.7239" stop-color="#d4e170"/><stop offset="0.8172" stop-color="#e0e57c"/><stop offset="0.9104" stop-color="#ede989"/><stop offset="1.0000" stop-color="#f8ed94"/></linearGradient><linearGradient id="c32" gradientUnits="userSpaceOnUse" x1="0" y1="112" x2="0" y2="648"><stop offset="0.0000" stop-color="#358888"/><stop offset="0.0243" stop-color="#348788"/><stop offset="0.0466" stop-color="#318388"/><stop offset="0.0709" stop-color="#2b7b89"/><stop offset="0.0989" stop-color="#287689"/><stop offset="0.1269" stop-color="#2b7b89"/><stop offset="0.1549" stop-color="#318288"/><stop offset="0.1828" stop-color="#378b88"/><stop offset="0.2108" stop-color="#3c9586"/><stop offset="0.2388" stop-color="#3d9786"/><stop offset="0.2724" stop-color="#4eae7e"/><stop offset="0.3041" stop-color="#65bf71"/><stop offset="0.3321" stop-color="#83cd64"/><stop offset="0.3601" stop-color="#a0d65b"/><stop offset="0.3881" stop-color="#a4d75d"/><stop offset="0.4160" stop-color="#afd961"/><stop offset="0.4440" stop-color="#b9db65"/><stop offset="0.4720" stop-color="#ccdf6d"/><stop offset="0.5093" stop-color="#d2e16f"/><stop offset="0.5560" stop-color="#d4e170"/><stop offset="0.6119" stop-color="#d4e170"/><stop offset="0.6679" stop-color="#d4e170"/><stop offset="0.7239" stop-color="#d4e170"/><stop offset="0.8172" stop-color="#e0e57c"/><stop offset="0.9104" stop-color="#ede989"/><stop offset="1.0000" stop-color="#f8ed94"/></linearGradient><linearGradient id="c33" gradientUnits="userSpaceOnUse" x1="0" y1="112" x2="0" y2="648"><stop offset="0.0000" stop-color="#358888"/><stop offset="0.0243" stop-color="#348788"/><stop offset="0.0466" stop-color="#328488"/><stop offset="0.0709" stop-color="#2c7c89"/><stop offset="0.0989" stop-color="#297889"/><stop offset="0.1269" stop-color="#2c7c89"/><stop offset="0.1549" stop-color="#328488"/><stop offset="0.1828" stop-color="#378c87"/><stop offset="0.2108" stop-color="#3c9486"/><stop offset="0.2388" stop-color="#3d9586"/><stop offset="0.2724" stop-color="#4dad7e"/><stop offset="0.3041" stop-color="#64be71"/><stop offset="0.3321" stop-color="#81cc65"/><stop offset="0.3601" stop-color="#9dd55c"/><stop offset="0.3881" stop-color="#a4d75d"/><stop offset="0.4160" stop-color="#afd961"/><stop offset="0.4440" stop-color="#bbdc66"/><stop offset="0.4720" stop-color="#ccdf6d"/><stop offset="0.5093" stop-color="#d2e16f"/><stop offset="0.5560" stop-color="#d4e170"/><stop offset="0.6119" stop-color="#d4e170"/><stop offset="0.6679" stop-color="#d4e170"/><stop offset="0.7239" stop-color="#d4e170"/><stop offset="0.8172" stop-color="#e0e57c"/><stop offset="0.9104" stop-color="#ede989"/><stop offset="1.0000" stop-color="#f8ed94"/></linearGradient><linearGradient id="c34" gradientUnits="userSpaceOnUse" x1="0" y1="112" x2="0" y2="648"><stop offset="0.0000" stop-color="#358888"/><stop offset="0.0243" stop-color="#348788"/><stop offset="0.0466" stop-color="#328488"/><stop offset="0.0709" stop-color="#2d7e89"/><stop offset="0.0989" stop-color="#297989"/><stop offset="0.1269" stop-color="#2d7e89"/><stop offset="0.1549" stop-color="#338588"/><stop offset="0.1828" stop-color="#388d87"/><stop offset="0.2108" stop-color="#3c9386"/><stop offset="0.2388" stop-color="#3c9486"/><stop offset="0.2724" stop-color="#4cab7f"/><stop offset="0.3041" stop-color="#62be72"/><stop offset="0.3321" stop-color="#7ecb66"/><stop offset="0.3601" stop-color="#9ad45d"/><stop offset="0.3881" stop-color="#a4d75d"/><stop offset="0.4160" stop-color="#afd961"/><stop offset="0.4440" stop-color="#bcdc66"/><stop offset="0.4720" stop-color="#ccdf6d"/><stop offset="0.5093" stop-color="#d2e16f"/><stop offset="0.5560" stop-color="#d4e170"/><stop offset="0.6119" stop-color="#d4e170"/><stop offset="0.6679" stop-color="#d4e170"/><stop offset="0.7239" stop-color="#d4e170"/><stop offset="0.8172" stop-color="#e0e57c"/><stop offset="0.9104" stop-color="#ede989"/><stop offset="1.0000" stop-color="#f8ed94"/></linearGradient><linearGradient id="c35" gradientUnits="userSpaceOnUse" x1="0" y1="112" x2="0" y2="648"><stop offset="0.0000" stop-color="#358888"/><stop offset="0.0243" stop-color="#348788"/><stop offset="0.0466" stop-color="#338588"/><stop offset="0.0709" stop-color="#2e7f88"/><stop offset="0.0989" stop-color="#2a7a89"/><stop offset="0.1269" stop-color="#2e7f88"/><stop offset="0.1549" stop-color="#348788"/><stop offset="0.1828" stop-color="#398f87"/><stop offset="0.2108" stop-color="#3b9386"/><stop offset="0.2388" stop-color="#3b9386"/><stop offset="0.2724" stop-color="#4baa7f"/><stop offset="0.3041" stop-color="#61bd73"/><stop offset="0.3321" stop-color="#7cca67"/><stop offset="0.3601" stop-color="#97d35e"/><stop offset="0.3881" stop-color="#a4d75d"/><stop offset="0.4160" stop-color="#afd961"/><stop offset="0.4440" stop-color="#bddc67"/><stop offset="0.4720" stop-color="#ccdf6d"/><stop offset="0.5093" stop-color="#d2e16f"/><stop offset="0.5560" stop-color="#d4e170"/><stop offset="0.6119" stop-color="#d4e170"/><stop offset="0.6679" stop-color="#d4e170"/><stop offset="0.7239" stop-color="#d4e170"/><stop offset="0.8172" stop-color="#e0e57c"/><stop offset="0.9104" stop-color="#ede989"/><stop offset="1.0000" stop-color="#f8ed94"/></linearGradient><linearGradient id="c36" gradientUnits="userSpaceOnUse" x1="0" y1="112" x2="0" y2="648"><stop offset="0.0000" stop-color="#358888"/><stop offset="0.0243" stop-color="#348788"/><stop offset="0.0466" stop-color="#338588"/><stop offset="0.0709" stop-color="#2e7f88"/><stop offset="0.0989" stop-color="#2a7a89"/><stop offset="0.1269" stop-color="#2e7f88"/><stop offset="0.1549" stop-color="#348788"/><stop offset="0.1828" stop-color="#398f87"/><stop offset="0.2108" stop-color="#3b9286"/><stop offset="0.2388" stop-color="#3b9386"/><stop offset="0.2724" stop-color="#4baa80"/><stop offset="0.3041" stop-color="#62bd72"/><stop offset="0.3321" stop-color="#7cca67"/><stop offset="0.3601" stop-color="#95d35e"/><stop offset="0.3881" stop-color="#a3d75c"/><stop offset="0.4160" stop-color="#afd961"/><stop offset="0.4440" stop-color="#bfdc67"/><stop offset="0.4720" stop-color="#ccdf6d"/><stop offset="0.5093" stop-color="#d2e16f"/><stop offset="0.5560" stop-color="#d4e170"/><stop offset="0.6119" stop-color="#d4e170"/><stop offset="0.6679" stop-color="#d4e170"/><stop offset="0.7239" stop-color="#d4e170"/><stop offset="0.8172" stop-color="#e0e57c"/><stop offset="0.9104" stop-color="#ede989"/><stop offset="1.0000" stop-color="#f8ed94"/></linearGradient><linearGradient id="c37" gradientUnits="userSpaceOnUse" x1="0" y1="112" x2="0" y2="648"><stop offset="0.0000" stop-color="#358888"/><stop offset="0.0243" stop-color="#348788"/><stop offset="0.0466" stop-color="#338588"/><stop offset="0.0709" stop-color="#2e7f88"/><stop offset="0.0989" stop-color="#2a7a89"/><stop offset="0.1269" stop-color="#2e7f88"/><stop offset="0.1549" stop-color="#348788"/><stop offset="0.1828" stop-color="#398f87"/><stop offset="0.2108" stop-color="#3b9286"/><stop offset="0.2388" stop-color="#3b9386"/><stop offset="0.2724" stop-color="#4baa80"/><stop offset="0.3041" stop-color="#63be72"/><stop offset="0.3321" stop-color="#7dcb66"/><stop offset="0.3601" stop-color="#94d25f"/><stop offset="0.3881" stop-color="#a2d65c"/><stop offset="0.4160" stop-color="#afd961"/><stop offset="0.4440" stop-color="#c0dd68"/><stop offset="0.4720" stop-color="#ccdf6d"/><stop offset="0.5093" stop-color="#d2e16f"/><stop offset="0.5560" stop-color="#d4e170"/><stop offset="0.6119" stop-color="#d4e170"/><stop offset="0.6679" stop-color="#d4e170"/><stop offset="0.7239" stop-color="#d4e170"/><stop offset="0.8172" stop-color="#e0e57c"/><stop offset="0.9104" stop-color="#ede989"/><stop offset="1.0000" stop-color="#f8ed94"/></linearGradient><linearGradient id="c38" gradientUnits="userSpaceOnUse" x1="0" y1="112" x2="0" y2="648"><stop offset="0.0000" stop-color="#348788"/><stop offset="0.0243" stop-color="#338588"/><stop offset="0.0466" stop-color="#318388"/><stop offset="0.0709" stop-color="#2d7d89"/><stop offset="0.0989" stop-color="#2a7a89"/><stop offset="0.1269" stop-color="#2e7f88"/><stop offset="0.1549" stop-color="#348788"/><stop offset="0.1828" stop-color="#398f87"/><stop offset="0.2108" stop-color="#3b9286"/><stop offset="0.2388" stop-color="#3c9486"/><stop offset="0.2724" stop-color="#4baa80"/><stop offset="0.3041" stop-color="#65bf71"/><stop offset="0.3321" stop-color="#7ecb66"/><stop offset="0.3601" stop-color="#93d25f"/><stop offset="0.3881" stop-color="#a1d65b"/><stop offset="0.4160" stop-color="#afd961"/><stop offset="0.4440" stop-color="#c1dd68"/><stop offset="0.4720" stop-color="#ccdf6d"/><stop offset="0.5093" stop-color="#d2e16f"/><stop offset="0.5560" stop-color="#d4e170"/><stop offset="0.6119" stop-color="#d4e170"/><stop offset="0.6679" stop-color="#d4e170"/><stop offset="0.7239" stop-color="#d4e170"/><stop offset="0.8172" stop-color="#e0e57c"/><stop offset="0.9104" stop-color="#ede989"/><stop offset="1.0000" stop-color="#f8ed94"/></linearGradient><linearGradient id="c39" gradientUnits="userSpaceOnUse" x1="0" y1="112" x2="0" y2="648"><stop offset="0.0000" stop-color="#318288"/><stop offset="0.0243" stop-color="#2f8088"/><stop offset="0.0466" stop-color="#2d7e89"/><stop offset="0.0709" stop-color="#2b7b89"/><stop offset="0.0989" stop-color="#2a7989"/><stop offset="0.1269" stop-color="#2d7e89"/><stop offset="0.1549" stop-color="#348788"/><stop offset="0.1828" stop-color="#398f87"/><stop offset="0.2108" stop-color="#3b9286"/><stop offset="0.2388" stop-color="#3c9586"/><stop offset="0.2724" stop-color="#4baa80"/><stop offset="0.3041" stop-color="#66c070"/><stop offset="0.3321" stop-color="#80cc65"/><stop offset="0.3601" stop-color="#91d160"/><stop offset="0.3881" stop-color="#9fd65b"/><stop offset="0.4160" stop-color="#afd961"/><stop offset="0.4440" stop-color="#c3dd69"/><stop offset="0.4720" stop-color="#ccdf6d"/><stop offset="0.5093" stop-color="#d2e16f"/><stop offset="0.5560" stop-color="#d4e170"/><stop offset="0.6119" stop-color="#d4e170"/><stop offset="0.6679" stop-color="#d4e170"/><stop offset="0.7239" stop-color="#d4e170"/><stop offset="0.8172" stop-color="#e0e57c"/><stop offset="0.9104" stop-color="#ede989"/><stop offset="1.0000" stop-color="#f8ed94"/></linearGradient><linearGradient id="c40" gradientUnits="userSpaceOnUse" x1="0" y1="112" x2="0" y2="648"><stop offset="0.0000" stop-color="#2e7f88"/><stop offset="0.0243" stop-color="#2d7d89"/><stop offset="0.0466" stop-color="#2b7b89"/><stop offset="0.0709" stop-color="#2a7989"/><stop offset="0.0989" stop-color="#2a7989"/><stop offset="0.1269" stop-color="#2d7d89"/><stop offset="0.1549" stop-color="#338688"/><stop offset="0.1828" stop-color="#388d87"/><stop offset="0.2108" stop-color="#3b9287"/><stop offset="0.2388" stop-color="#3e9786"/><stop offset="0.2724" stop-color="#4dac7e"/><stop offset="0.3041" stop-color="#66c070"/><stop offset="0.3321" stop-color="#7cca67"/><stop offset="0.3601" stop-color="#8ed061"/><stop offset="0.3881" stop-color="#9cd55c"/><stop offset="0.4160" stop-color="#acd860"/><stop offset="0.4440" stop-color="#bedc67"/><stop offset="0.4720" stop-color="#c8de6b"/><stop offset="0.5093" stop-color="#d1e06f"/><stop offset="0.5560" stop-color="#d4e170"/><stop offset="0.6119" stop-color="#d4e170"/><stop offset="0.6679" stop-color="#d4e170"/><stop offset="0.7239" stop-color="#d4e170"/><stop offset="0.8172" stop-color="#e0e57c"/><stop offset="0.9104" stop-color="#ede989"/><stop offset="1.0000" stop-color="#f8ed94"/></linearGradient><linearGradient id="c41" gradientUnits="userSpaceOnUse" x1="0" y1="112" x2="0" y2="648"><stop offset="0.0000" stop-color="#2c7d89"/><stop offset="0.0243" stop-color="#2b7a89"/><stop offset="0.0466" stop-color="#2a7989"/><stop offset="0.0709" stop-color="#297889"/><stop offset="0.0989" stop-color="#2a7989"/><stop offset="0.1269" stop-color="#2c7c89"/><stop offset="0.1549" stop-color="#318388"/><stop offset="0.1828" stop-color="#368a88"/><stop offset="0.2108" stop-color="#3a9187"/><stop offset="0.2388" stop-color="#409b85"/><stop offset="0.2724" stop-color="#50b07d"/><stop offset="0.3041" stop-color="#66c070"/><stop offset="0.3321" stop-color="#75c869"/><stop offset="0.3601" stop-color="#8acf62"/><stop offset="0.3881" stop-color="#97d35e"/><stop offset="0.4160" stop-color="#a6d75d"/><stop offset="0.4440" stop-color="#b5da63"/><stop offset="0.4720" stop-color="#c2dd69"/><stop offset="0.5093" stop-color="#cfe06e"/><stop offset="0.5560" stop-color="#d4e170"/><stop offset="0.6119" stop-color="#d4e170"/><stop offset="0.6679" stop-color="#d4e170"/><stop offset="0.7239" stop-color="#d4e170"/><stop offset="0.8172" stop-color="#e0e57c"/><stop offset="0.9104" stop-color="#ede989"/><stop offset="1.0000" stop-color="#f8ed94"/></linearGradient><linearGradient id="c42" gradientUnits="userSpaceOnUse" x1="0" y1="112" x2="0" y2="648"><stop offset="0.0000" stop-color="#2b7b89"/><stop offset="0.0243" stop-color="#2a7989"/><stop offset="0.0466" stop-color="#297889"/><stop offset="0.0709" stop-color="#297889"/><stop offset="0.0989" stop-color="#2a7989"/><stop offset="0.1269" stop-color="#2c7c89"/><stop offset="0.1549" stop-color="#318388"/><stop offset="0.1828" stop-color="#358888"/><stop offset="0.2108" stop-color="#398f87"/><stop offset="0.2388" stop-color="#3f9986"/><stop offset="0.2724" stop-color="#4eae7e"/><stop offset="0.3041" stop-color="#62be72"/><stop offset="0.3321" stop-color="#71c76a"/><stop offset="0.3601" stop-color="#89ce63"/><stop offset="0.3881" stop-color="#96d35e"/><stop offset="0.4160" stop-color="#a4d75d"/><stop offset="0.4440" stop-color="#b2da62"/><stop offset="0.4720" stop-color="#c0dd68"/><stop offset="0.5093" stop-color="#cfe06e"/><stop offset="0.5560" stop-color="#d4e170"/><stop offset="0.6119" stop-color="#d4e170"/><stop offset="0.6679" stop-color="#d4e170"/><stop offset="0.7239" stop-color="#d4e170"/><stop offset="0.8172" stop-color="#e0e57c"/><stop offset="0.9104" stop-color="#ede989"/><stop offset="1.0000" stop-color="#f8ed94"/></linearGradient><linearGradient id="c43" gradientUnits="userSpaceOnUse" x1="0" y1="112" x2="0" y2="648"><stop offset="0.0000" stop-color="#2a7a89"/><stop offset="0.0243" stop-color="#2a7989"/><stop offset="0.0466" stop-color="#297889"/><stop offset="0.0709" stop-color="#297889"/><stop offset="0.0989" stop-color="#2a7989"/><stop offset="0.1269" stop-color="#2c7c89"/><stop offset="0.1549" stop-color="#318388"/><stop offset="0.1828" stop-color="#348788"/><stop offset="0.2108" stop-color="#388d87"/><stop offset="0.2388" stop-color="#3c9586"/><stop offset="0.2724" stop-color="#4baa80"/><stop offset="0.3041" stop-color="#5ebb75"/><stop offset="0.3321" stop-color="#6ec66b"/><stop offset="0.3601" stop-color="#89ce63"/><stop offset="0.3881" stop-color="#96d35e"/><stop offset="0.4160" stop-color="#a4d75d"/><stop offset="0.4440" stop-color="#b2da62"/><stop offset="0.4720" stop-color="#c0dd68"/><stop offset="0.5093" stop-color="#cfe06e"/><stop offset="0.5560" stop-color="#d4e170"/><stop offset="0.6119" stop-color="#d4e170"/><stop offset="0.6679" stop-color="#d4e170"/><stop offset="0.7239" stop-color="#d4e170"/><stop offset="0.8172" stop-color="#e0e57c"/><stop offset="0.9104" stop-color="#ede989"/><stop offset="1.0000" stop-color="#f8ed94"/></linearGradient><linearGradient id="c44" gradientUnits="userSpaceOnUse" x1="0" y1="112" x2="0" y2="648"><stop offset="0.0000" stop-color="#2a7a89"/><stop offset="0.0243" stop-color="#2a7989"/><stop offset="0.0466" stop-color="#297889"/><stop offset="0.0709" stop-color="#297889"/><stop offset="0.0989" stop-color="#2a7989"/><stop offset="0.1269" stop-color="#2c7c89"/><stop offset="0.1549" stop-color="#318388"/><stop offset="0.1828" stop-color="#348788"/><stop offset="0.2108" stop-color="#388d87"/><stop offset="0.2388" stop-color="#3c9586"/><stop offset="0.2724" stop-color="#4baa80"/><stop offset="0.3041" stop-color="#5ebb75"/><stop offset="0.3321" stop-color="#6ec66b"/><stop offset="0.3601" stop-color="#89ce63"/><stop offset="0.3881" stop-color="#96d35e"/><stop offset="0.4160" stop-color="#a4d75d"/><stop offset="0.4440" stop-color="#b2da62"/><stop offset="0.4720" stop-color="#c0dd68"/><stop offset="0.5093" stop-color="#cfe06e"/><stop offset="0.5560" stop-color="#d4e170"/><stop offset="0.6119" stop-color="#d4e170"/><stop offset="0.6679" stop-color="#d4e170"/><stop offset="0.7239" stop-color="#d4e170"/><stop offset="0.8172" stop-color="#e0e57c"/><stop offset="0.9104" stop-color="#ede989"/><stop offset="1.0000" stop-color="#f8ed94"/></linearGradient><linearGradient id="c45" gradientUnits="userSpaceOnUse" x1="0" y1="112" x2="0" y2="648"><stop offset="0.0000" stop-color="#2a7a89"/><stop offset="0.0243" stop-color="#2a7989"/><stop offset="0.0466" stop-color="#297889"/><stop offset="0.0709" stop-color="#297889"/><stop offset="0.0989" stop-color="#2a7989"/><stop offset="0.1269" stop-color="#2c7c89"/><stop offset="0.1549" stop-color="#318388"/><stop offset="0.1828" stop-color="#348788"/><stop offset="0.2108" stop-color="#388d87"/><stop offset="0.2388" stop-color="#3c9586"/><stop offset="0.2724" stop-color="#4baa80"/><stop offset="0.3041" stop-color="#5ebb75"/><stop offset="0.3321" stop-color="#6ec66b"/><stop offset="0.3601" stop-color="#89ce63"/><stop offset="0.3881" stop-color="#96d35e"/><stop offset="0.4160" stop-color="#a4d75d"/><stop offset="0.4440" stop-color="#b2da62"/><stop offset="0.4720" stop-color="#c0dd68"/><stop offset="0.5093" stop-color="#cfe06e"/><stop offset="0.5560" stop-color="#d4e170"/><stop offset="0.6119" stop-color="#d4e170"/><stop offset="0.6679" stop-color="#d4e170"/><stop offset="0.7239" stop-color="#d4e170"/><stop offset="0.8172" stop-color="#e0e57c"/><stop offset="0.9104" stop-color="#ede989"/><stop offset="1.0000" stop-color="#f8ed94"/></linearGradient><linearGradient id="c46" gradientUnits="userSpaceOnUse" x1="0" y1="112" x2="0" y2="648"><stop offset="0.0000" stop-color="#2a7a89"/><stop offset="0.0243" stop-color="#2a7989"/><stop offset="0.0466" stop-color="#297889"/><stop offset="0.0709" stop-color="#297889"/><stop offset="0.0989" stop-color="#2a7989"/><stop offset="0.1269" stop-color="#2c7c89"/><stop offset="0.1549" stop-color="#318388"/><stop offset="0.1828" stop-color="#348788"/><stop offset="0.2108" stop-color="#388d87"/><stop offset="0.2388" stop-color="#3c9586"/><stop offset="0.2724" stop-color="#4baa80"/><stop offset="0.3041" stop-color="#5ebb75"/><stop offset="0.3321" stop-color="#6ec66b"/><stop offset="0.3601" stop-color="#89ce63"/><stop offset="0.3881" stop-color="#96d35e"/><stop offset="0.4160" stop-color="#a4d75d"/><stop offset="0.4440" stop-color="#b2da62"/><stop offset="0.4720" stop-color="#c0dd68"/><stop offset="0.5093" stop-color="#cfe06e"/><stop offset="0.5560" stop-color="#d4e170"/><stop offset="0.6119" stop-color="#d4e170"/><stop offset="0.6679" stop-color="#d4e170"/><stop offset="0.7239" stop-color="#d4e170"/><stop offset="0.8172" stop-color="#e0e57c"/><stop offset="0.9104" stop-color="#ede989"/><stop offset="1.0000" stop-color="#f8ed94"/></linearGradient><filter id="hb" x="0" y="0" width="800" height="718" filterUnits="userSpaceOnUse"><feGaussianBlur stdDeviation="9 0"/></filter></defs>
<g clip-path="url(#clip)"><g filter="url(#hb)"><rect x="39.7" y="100" width="14.6" height="560" fill="url(#c0)"/><rect x="53.7" y="100" width="14.6" height="560" fill="url(#c1)"/><rect x="67.7" y="100" width="14.6" height="560" fill="url(#c2)"/><rect x="81.7" y="100" width="14.6" height="560" fill="url(#c3)"/><rect x="95.7" y="100" width="14.6" height="560" fill="url(#c4)"/><rect x="109.7" y="100" width="14.6" height="560" fill="url(#c5)"/><rect x="123.7" y="100" width="14.6" height="560" fill="url(#c6)"/><rect x="137.7" y="100" width="14.6" height="560" fill="url(#c7)"/><rect x="151.7" y="100" width="14.6" height="560" fill="url(#c8)"/><rect x="165.7" y="100" width="14.6" height="560" fill="url(#c9)"/><rect x="179.7" y="100" width="14.6" height="560" fill="url(#c10)"/><rect x="193.7" y="100" width="14.6" height="560" fill="url(#c11)"/><rect x="207.7" y="100" width="14.6" height="560" fill="url(#c12)"/><rect x="221.7" y="100" width="14.6" height="560" fill="url(#c13)"/><rect x="235.7" y="100" width="14.6" height="560" fill="url(#c14)"/><rect x="249.7" y="100" width="14.6" height="560" fill="url(#c15)"/><rect x="263.7" y="100" width="14.6" height="560" fill="url(#c16)"/><rect x="277.7" y="100" width="14.6" height="560" fill="url(#c17)"/><rect x="291.7" y="100" width="14.6" height="560" fill="url(#c18)"/><rect x="305.7" y="100" width="14.6" height="560" fill="url(#c19)"/><rect x="319.7" y="100" width="14.6" height="560" fill="url(#c20)"/><rect x="333.7" y="100" width="14.6" height="560" fill="url(#c21)"/><rect x="347.7" y="100" width="14.6" height="560" fill="url(#c22)"/><rect x="361.7" y="100" width="14.6" height="560" fill="url(#c23)"/><rect x="375.7" y="100" width="14.6" height="560" fill="url(#c24)"/><rect x="389.7" y="100" width="14.6" height="560" fill="url(#c25)"/><rect x="403.7" y="100" width="14.6" height="560" fill="url(#c26)"/><rect x="417.7" y="100" width="14.6" height="560" fill="url(#c27)"/><rect x="431.7" y="100" width="14.6" height="560" fill="url(#c28)"/><rect x="445.7" y="100" width="14.6" height="560" fill="url(#c29)"/><rect x="459.7" y="100" width="14.6" height="560" fill="url(#c30)"/><rect x="473.7" y="100" width="14.6" height="560" fill="url(#c31)"/><rect x="487.7" y="100" width="14.6" height="560" fill="url(#c32)"/><rect x="501.7" y="100" width="14.6" height="560" fill="url(#c33)"/><rect x="515.7" y="100" width="14.6" height="560" fill="url(#c34)"/><rect x="529.7" y="100" width="14.6" height="560" fill="url(#c35)"/><rect x="543.7" y="100" width="14.6" height="560" fill="url(#c36)"/><rect x="557.7" y="100" width="14.6" height="560" fill="url(#c37)"/><rect x="571.7" y="100" width="14.6" height="560" fill="url(#c38)"/><rect x="585.7" y="100" width="14.6" height="560" fill="url(#c39)"/><rect x="599.7" y="100" width="14.6" height="560" fill="url(#c40)"/><rect x="613.7" y="100" width="14.6" height="560" fill="url(#c41)"/><rect x="627.7" y="100" width="14.6" height="560" fill="url(#c42)"/><rect x="641.7" y="100" width="14.6" height="560" fill="url(#c43)"/><rect x="655.7" y="100" width="14.6" height="560" fill="url(#c44)"/><rect x="669.7" y="100" width="14.6" height="560" fill="url(#c45)"/><rect x="683.7" y="100" width="14.6" height="560" fill="url(#c46)"/></g>
<!--OVERLAYS-->
</g>
<g clip-path="url(#clip)" fill="none" stroke="#000" stroke-width="1.25" stroke-linejoin="round">
<polyline points="83.50,124.50 86.30,123.70 87.30,121.20 91.00,122.40"/>
<polyline points="83.50,137.20 88.30,141.00"/>
<polyline points="97.30,141.00 98.20,140.00 105.00,125.90 108.00,125.90"/>
<polyline points="103.80,116.30 105.00,113.80"/>
<polyline points="94.60,151.60 98.20,150.60 105.00,137.80 110.00,138.00 117.00,143.70 117.80,135.00 119.20,132.00"/>
<polyline points="113.00,125.20 116.70,126.80 118.20,118.00 124.20,115.60"/>
<polyline points="83.50,173.80 88.80,173.20 93.80,169.00 98.20,166.50 103.20,166.30 105.00,160.00 110.00,161.30 116.30,165.60 118.20,163.10 125.10,168.20 135.10,168.40 149.50,173.40 163.30,173.80 180.00,180.70 190.70,182.60 196.90,186.30 206.30,188.80 217.60,188.20 232.70,186.90 238.30,189.50 245.20,187.20 250.20,188.80 261.50,189.50 265.00,190.20"/>
<polyline points="154.20,120.30 160.40,112.00"/>
<polyline points="165.60,112.00 177.70,123.70 180.00,123.00 190.70,118.30 206.30,130.30 210.50,127.70"/>
<polyline points="202.00,112.00 206.30,116.10 212.80,112.00"/>
<polyline points="163.30,131.80 175.20,137.40 178.80,140.00 190.70,143.70 203.80,149.40 217.40,158.80 228.30,151.20 238.00,158.10 240.00,146.60 247.60,155.60"/>
<polyline points="220.00,112.00 225.00,117.50 228.50,121.00 231.70,126.80"/>
<polyline points="225.00,131.60 231.00,139.10 238.00,146.10 240.00,128.00 240.50,112.50 246.60,130.60"/>
<polyline points="235.00,128.00 236.00,135.00 238.00,138.00 240.00,129.00 246.60,144.60 250.60,129.60 260.10,124.00 270.10,127.00 279.60,130.60 286.20,126.50 295.20,137.10 305.70,148.70 337.00,145.60 348.30,137.40 355.20,129.30"/>
<polyline points="249.10,124.20 250.60,115.00 255.60,112.00"/>
<polyline points="265.60,112.00 279.10,119.50 286.20,112.50 289.20,118.00 305.70,135.60 337.00,130.60 350.80,112.40"/>
<polyline points="270.60,148.10 276.10,150.10 280.60,150.60 281.80,148.40"/>
<polyline points="287.70,146.10 291.20,148.10 296.30,156.20 305.70,162.50 337.00,159.10 342.80,161.80"/>
<polyline points="289.50,179.60 305.70,183.20 337.00,178.20 344.20,181.50"/>
<polyline points="355.20,112.40 356.40,116.80"/>
<polyline points="354.50,128.70 355.20,132.00"/>
<polyline points="358.90,117.40 366.30,112.40 390.10,115.50 409.50,114.30 420.80,112.20"/>
<polyline points="365.00,131.80 370.00,130.60 390.10,131.60 410.10,131.20 428.50,124.80"/>
<polyline points="355.80,163.10 357.00,159.40 367.50,155.40"/>
<polyline points="408.20,157.50 428.30,144.30 429.70,149.60"/>
<polyline points="356.40,181.90 357.70,180.70 390.10,189.50 410.10,187.60 428.30,181.90 429.50,182.60 448.80,177.20 453.80,181.30 467.60,183.80 480.70,186.30 493.30,185.90 505.80,185.10 516.40,188.80 527.70,190.70 536.30,186.90 542.60,183.80 551.30,179.40 563.90,172.50 575.10,174.40 588.30,170.00 600.20,166.30 611.10,164.60 619.10,162.60 625.10,173.70 630.10,165.60 636.60,170.70 640.10,162.60 650.20,159.40"/>
<polyline points="432.70,112.20 449.50,114.60 450.90,112.20"/>
<polyline points="440.20,124.90 449.50,127.40 452.10,123.60"/>
<polyline points="435.60,150.20 449.00,143.70 452.80,149.60"/>
<polyline points="458.20,112.20 467.60,121.20 475.70,112.20"/>
<polyline points="461.70,126.60 467.60,131.20 480.70,120.50 493.30,129.30 505.80,129.90 516.40,142.50 527.60,134.90 538.80,128.00 551.30,126.20 563.20,127.40 575.10,129.30 581.00,126.60"/>
<polyline points="487.60,112.20 493.30,117.40 505.80,117.40 516.40,129.90 527.60,120.50 543.80,112.20"/>
<polyline points="513.30,112.20 516.40,114.90 519.60,112.20"/>
<polyline points="456.10,153.30 480.70,138.70 493.30,144.30 505.80,146.20 516.40,154.40 527.50,153.40 539.40,145.00 551.30,147.80 563.20,144.30 575.10,147.50 583.50,149.20"/>
<polyline points="563.20,112.60 575.10,114.00 579.70,112.20"/>
<polyline points="594.00,123.80 600.10,115.50 611.00,122.40 619.10,119.50 624.80,114.60"/>
<polyline points="596.00,143.80 600.20,141.20 603.00,139.10 611.10,136.90 619.00,136.40"/>
<polyline points="634.40,142.90 637.10,145.60 640.10,127.00 644.30,128.70"/>
<polyline points="634.10,114.00 636.60,122.00 638.60,113.00"/>
<polyline points="647.00,132.80 650.50,128.80"/>
<polyline points="86.90,211.25 93.00,208.75 98.00,210.00 105.00,204.50 116.25,205.50 118.25,203.75 125.00,208.00 136.25,211.75 150.00,213.75 163.75,218.00 178.75,219.75 190.00,218.00 205.00,220.00 216.25,223.00 228.75,225.50 233.75,226.25 238.75,223.00 244.50,220.00 247.00,223.25 251.25,221.25 260.00,219.50 270.00,218.00 279.30,215.60"/>
<polyline points="305.20,217.00 337.10,213.75"/>
<polyline points="366.90,219.25 390.00,221.25 409.50,222.50 427.50,214.50 430.00,217.00 453.75,220.50 460.00,220.00 467.50,218.75 481.25,221.25 492.50,220.75 505.75,223.25 516.25,220.75 527.00,220.75 539.50,215.75 552.00,219.25 563.75,214.50 576.25,213.75 588.75,211.75 600.00,214.50 611.25,212.00 618.25,206.75 625.00,212.50 630.50,210.50 637.00,212.00 640.00,211.25 646.25,212.50 650.50,208.50"/>
<polyline points="86.90,270.00 93.00,275.00 98.00,267.50 110.00,267.00 116.75,270.00 118.25,272.50 125.00,270.50 136.25,278.75 150.00,275.50 163.75,275.50 178.75,278.75 190.75,283.00 205.00,280.50 216.25,275.75 228.50,279.50"/>
<polyline points="260.20,270.50 270.00,271.75 279.30,273.75"/>
<polyline points="305.20,270.75 337.10,272.50"/>
<polyline points="366.90,273.75 390.00,273.50 409.50,271.25 427.50,274.25 448.75,269.25 453.75,273.00 467.00,272.50 477.50,277.50 481.25,278.00 493.75,279.25 505.50,275.50 516.25,280.50 527.00,279.50 532.50,277.50 539.50,273.75 552.00,268.25 563.75,273.75 576.25,267.00 588.75,269.25 600.00,270.75 611.25,275.00 621.25,284.50 630.50,289.50 637.20,289.50"/>
<polyline points="136.00,362.50 150.50,370.00 165.00,370.75 178.75,372.00 191.25,370.50 205.00,366.75 217.50,363.25 228.50,365.00"/>
<polyline points="260.20,367.50 270.00,364.25 279.30,358.00"/>
<polyline points="305.20,363.25 337.10,362.75"/>
<polyline points="366.90,367.00 378.75,364.50 390.50,362.50 409.25,363.50 427.50,370.00 430.00,365.75 449.25,366.75 454.50,363.75 468.00,365.00 481.25,359.00 493.75,363.00 505.75,366.75 516.25,365.00 527.00,362.50 539.50,366.25 552.00,364.75 563.75,363.75 576.25,357.00 588.75,357.25 600.00,357.50 611.30,356.75"/>
<polyline points="260.20,504.90 279.30,501.80"/>
<polyline points="305.20,502.30 337.10,498.40"/>
<polyline points="366.90,497.60 390.40,498.10 410.10,502.30 428.00,501.80 430.60,506.20 449.00,503.60"/>
</g>
<g stroke="#262626" stroke-width="1" fill="none">
<path d="M83.7 52.2 V653.4 H650.5 V52.2"/>
<path d="M78.7 52.2 H655.5" />
<path d="M83.7 147.26 h6 M650.5 147.26 h-6"/>
<path d="M83.7 186.63 h6 M650.5 186.63 h-6"/>
<path d="M83.7 242.32 h6 M650.5 242.32 h-6"/>
<path d="M83.7 352.80 h6 M650.5 352.80 h-6"/>
<path d="M83.7 477.31 h6 M650.5 477.31 h-6"/>
<path d="M83.7 572.85 h6 M650.5 572.85 h-6"/>
<path d="M650.50 653.4 v-6"/>
<path d="M542.02 653.4 v-6"/>
<path d="M433.54 653.4 v-6"/>
<path d="M325.06 653.4 v-6"/>
<path d="M216.58 653.4 v-6"/>
<path d="M108.10 653.4 v-6"/>
<path d="M83.70 47.1 V57.3" stroke-width="1.25"/>
<path d="M86.40 47.1 V57.3" stroke-width="1.25"/>
<path d="M87.40 47.1 V57.3" stroke-width="1.25"/>
<path d="M93.25 47.1 V57.3" stroke-width="1.25"/>
<path d="M98.25 47.1 V57.3" stroke-width="1.25"/>
<path d="M105.00 47.1 V57.3" stroke-width="1.25"/>
<path d="M110.00 47.1 V57.3" stroke-width="1.25"/>
<path d="M116.50 47.1 V57.3" stroke-width="1.25"/>
<path d="M117.40 47.1 V57.3" stroke-width="1.25"/>
<path d="M118.30 47.1 V57.3" stroke-width="1.25"/>
<path d="M125.40 47.1 V57.3" stroke-width="1.25"/>
<path d="M136.00 47.1 V57.3" stroke-width="1.25"/>
<path d="M150.50 47.1 V57.3" stroke-width="1.25"/>
<path d="M163.50 47.1 V57.3" stroke-width="1.25"/>
<path d="M178.40 47.1 V57.3" stroke-width="1.25"/>
<path d="M190.75 47.1 V57.3" stroke-width="1.25"/>
<path d="M205.50 47.1 V57.3" stroke-width="1.25"/>
<path d="M217.10 47.1 V57.3" stroke-width="1.25"/>
<path d="M228.40 47.1 V57.3" stroke-width="1.25"/>
<path d="M233.40 47.1 V57.3" stroke-width="1.25"/>
<path d="M237.50 47.1 V57.3" stroke-width="1.25"/>
<path d="M238.40 47.1 V57.3" stroke-width="1.25"/>
<path d="M239.60 47.1 V57.3" stroke-width="1.25"/>
<path d="M240.40 47.1 V57.3" stroke-width="1.25"/>
<path d="M244.50 47.1 V57.3" stroke-width="1.25"/>
<path d="M246.60 47.1 V57.3" stroke-width="1.25"/>
<path d="M247.40 47.1 V57.3" stroke-width="1.25"/>
<path d="M250.60 47.1 V57.3" stroke-width="1.25"/>
<path d="M260.25 47.1 V57.3" stroke-width="1.25"/>
<path d="M279.10 47.1 V57.3" stroke-width="1.25"/>
<path d="M285.90 47.1 V57.3" stroke-width="1.25"/>
<path d="M289.10 47.1 V57.3" stroke-width="1.25"/>
<path d="M305.25 47.1 V57.3" stroke-width="1.25"/>
<path d="M337.10 47.1 V57.3" stroke-width="1.25"/>
<path d="M354.60 47.1 V57.3" stroke-width="1.25"/>
<path d="M356.90 47.1 V57.3" stroke-width="1.25"/>
<path d="M366.90 47.1 V57.3" stroke-width="1.25"/>
<path d="M390.25 47.1 V57.3" stroke-width="1.25"/>
<path d="M409.50 47.1 V57.3" stroke-width="1.25"/>
<path d="M427.60 47.1 V57.3" stroke-width="1.25"/>
<path d="M428.70 47.1 V57.3" stroke-width="1.25"/>
<path d="M429.90 47.1 V57.3" stroke-width="1.25"/>
<path d="M448.90 47.1 V57.3" stroke-width="1.25"/>
<path d="M453.75 47.1 V57.3" stroke-width="1.25"/>
<path d="M467.25 47.1 V57.3" stroke-width="1.25"/>
<path d="M480.90 47.1 V57.3" stroke-width="1.25"/>
<path d="M493.10 47.1 V57.3" stroke-width="1.25"/>
<path d="M505.50 47.1 V57.3" stroke-width="1.25"/>
<path d="M516.00 47.1 V57.3" stroke-width="1.25"/>
<path d="M527.00 47.1 V57.3" stroke-width="1.25"/>
<path d="M539.40 47.1 V57.3" stroke-width="1.25"/>
<path d="M551.90 47.1 V57.3" stroke-width="1.25"/>
<path d="M564.00 47.1 V57.3" stroke-width="1.25"/>
<path d="M575.90 47.1 V57.3" stroke-width="1.25"/>
<path d="M588.40 47.1 V57.3" stroke-width="1.25"/>
<path d="M600.00 47.1 V57.3" stroke-width="1.25"/>
<path d="M611.25 47.1 V57.3" stroke-width="1.25"/>
<path d="M618.75 47.1 V57.3" stroke-width="1.25"/>
<path d="M625.30 47.1 V57.3" stroke-width="1.25"/>
<path d="M630.40 47.1 V57.3" stroke-width="1.25"/>
<path d="M637.10 47.1 V57.3" stroke-width="1.25"/>
<path d="M640.25 47.1 V57.3" stroke-width="1.25"/>
<path d="M646.60 47.1 V57.3" stroke-width="1.25"/>
<path d="M650.50 47.1 V57.3" stroke-width="1.25"/>
<path d="M108.25 52.7 V58.7" stroke-opacity="0.75"/>
<path d="M217.60 52.7 V58.7" stroke-opacity="0.75"/>
<path d="M324.75 52.7 V58.7" stroke-opacity="0.75"/>
<path d="M433.40 52.7 V58.7" stroke-opacity="0.75"/>
<path d="M541.90 52.7 V58.7" stroke-opacity="0.75"/>
</g>
<rect x="698.5" y="52" width="18" height="601.5" fill="url(#cb)" stroke="#262626" stroke-width="0.7"/>
<g stroke="#262626" stroke-width="1">
<path d="M698.5 202.38 h6 M716.5 202.38 h-6"/>
<path d="M698.5 352.75 h6 M716.5 352.75 h-6"/>
<path d="M698.5 503.12 h6 M716.5 503.12 h-6"/>
</g>
</svg>
<div class="t ttl" style="top:-2.4px;left:366.4px;letter-spacing:-0.06px">0213 Section 1, Dives 1-30</div>
<div class="t ttl" style="top:23.0px;left:362.7px;letter-spacing:-0.05px">2025-09-24 18:12 - 2025-09-25 20:11</div>
<div class="t tk yl" style="top:41.6px">0</div>
<div class="t tk yl" style="top:136.7px">25</div>
<div class="t tk yl" style="top:176.0px">50</div>
<div class="t tk yl" style="top:231.7px">100</div>
<div class="t tk yl" style="top:342.2px">250</div>
<div class="t tk yl" style="top:466.7px">500</div>
<div class="t tk yl" style="top:562.3px">750</div>
<div class="t tk yl" style="top:643.5px">1000</div>
<div class="t tk xl" style="left:650.0px;top:664.4px">0</div>
<div class="t tk xl" style="left:541.5px;top:664.4px">10</div>
<div class="t tk xl" style="left:433.0px;top:664.4px">20</div>
<div class="t tk xl" style="left:324.6px;top:664.4px">30</div>
<div class="t tk xl" style="left:216.1px;top:664.4px">40</div>
<div class="t tk xl" style="left:107.6px;top:664.4px">50</div>
<div class="t lab" style="left:367.5px;top:692px;transform:translateX(-50%)">Distance (km)</div>
<div class="t lab" style="left:10px;top:352.5px;transform:translate(-50%,-50%) rotate(-90deg)">Depth (m)</div>
<div class="t tk" style="left:723.2px;top:42.3px">34.5</div>
<div class="t tk" style="left:723.2px;top:192.7px">34</div>
<div class="t tk" style="left:723.2px;top:343.0px">33.5</div>
<div class="t tk" style="left:723.2px;top:493.4px">33</div>
<div class="t tk" style="left:723.2px;top:643.8px">32.5</div>
<div class="t lab" style="left:784.8px;top:353.5px;transform:translate(-50%,-50%) rotate(-90deg)">Salinity</div>
</body></html>
